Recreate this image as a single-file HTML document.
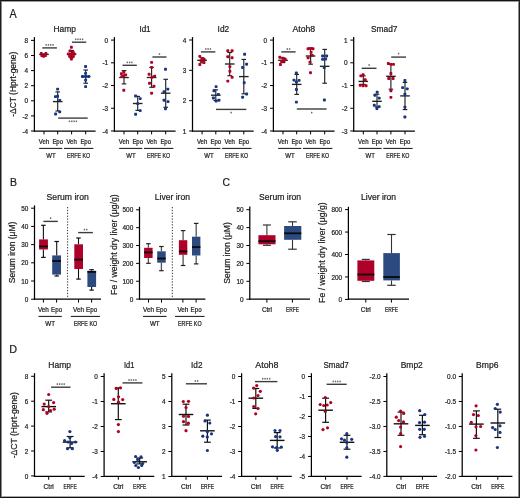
<!DOCTYPE html>
<html><head><meta charset="utf-8"><style>
html,body{margin:0;padding:0;background:#fff;}
body{width:520px;height:498px;overflow:hidden;position:relative;font-family:"Liberation Sans", sans-serif;}
svg{position:absolute;left:0;top:0;will-change:transform;}
svg text{font-family:"Liberation Sans", sans-serif;stroke:#222;stroke-width:0.22px;}
</style></head><body>
<svg width="520" height="498" viewBox="0 0 520 498">
<rect x="0" y="0" width="520" height="498" fill="#fff"/>
<text x="9.6" y="17.6" font-size="12.2" text-anchor="start" fill="#1a1a1a" textLength="7.2" lengthAdjust="spacingAndGlyphs">A</text>
<text x="9.9" y="185.8" font-size="11.4" text-anchor="start" fill="#1a1a1a" textLength="7" lengthAdjust="spacingAndGlyphs">B</text>
<text x="222.6" y="185.9" font-size="11.8" text-anchor="start" fill="#1a1a1a" textLength="7.5" lengthAdjust="spacingAndGlyphs">C</text>
<text x="9.2" y="353.3" font-size="11.4" text-anchor="start" fill="#1a1a1a" textLength="7.8" lengthAdjust="spacingAndGlyphs">D</text>
<text x="64.75" y="31.8" font-size="8.6" text-anchor="middle" fill="#1a1a1a" textLength="22.5" lengthAdjust="spacingAndGlyphs">Hamp</text>
<line x1="34.4" y1="37.1" x2="34.4" y2="131.62" stroke="#000" stroke-width="1.25"/>
<line x1="31" y1="40.4" x2="34.4" y2="40.4" stroke="#000" stroke-width="1"/>
<text x="28.2" y="43.06" font-size="7.4" text-anchor="end" fill="#1a1a1a" textLength="3.58" lengthAdjust="spacingAndGlyphs">8</text>
<line x1="31" y1="55.5" x2="34.4" y2="55.5" stroke="#000" stroke-width="1"/>
<text x="28.2" y="58.16" font-size="7.4" text-anchor="end" fill="#1a1a1a" textLength="3.58" lengthAdjust="spacingAndGlyphs">6</text>
<line x1="31" y1="70.6" x2="34.4" y2="70.6" stroke="#000" stroke-width="1"/>
<text x="28.2" y="73.26" font-size="7.4" text-anchor="end" fill="#1a1a1a" textLength="3.58" lengthAdjust="spacingAndGlyphs">4</text>
<line x1="31" y1="85.7" x2="34.4" y2="85.7" stroke="#000" stroke-width="1"/>
<text x="28.2" y="88.36" font-size="7.4" text-anchor="end" fill="#1a1a1a" textLength="3.58" lengthAdjust="spacingAndGlyphs">2</text>
<line x1="31" y1="100.8" x2="34.4" y2="100.8" stroke="#000" stroke-width="1"/>
<text x="28.2" y="103.46" font-size="7.4" text-anchor="end" fill="#1a1a1a" textLength="3.58" lengthAdjust="spacingAndGlyphs">0</text>
<line x1="31" y1="115.9" x2="34.4" y2="115.9" stroke="#000" stroke-width="1"/>
<text x="28.2" y="118.56" font-size="7.4" text-anchor="end" fill="#1a1a1a" textLength="5.72" lengthAdjust="spacingAndGlyphs">-2</text>
<line x1="31" y1="131" x2="34.4" y2="131" stroke="#000" stroke-width="1"/>
<text x="28.2" y="133.66" font-size="7.4" text-anchor="end" fill="#1a1a1a" textLength="5.72" lengthAdjust="spacingAndGlyphs">-4</text>
<line x1="33.77" y1="131" x2="95.6" y2="131" stroke="#000" stroke-width="1.25"/>
<line x1="44" y1="131" x2="44" y2="134.4" stroke="#000" stroke-width="1"/>
<line x1="57.7" y1="131" x2="57.7" y2="134.4" stroke="#000" stroke-width="1"/>
<line x1="71.6" y1="131" x2="71.6" y2="134.4" stroke="#000" stroke-width="1"/>
<line x1="85.7" y1="131" x2="85.7" y2="134.4" stroke="#000" stroke-width="1"/>
<text x="44" y="143.8" font-size="6.6" text-anchor="middle" fill="#1a1a1a" textLength="10.4" lengthAdjust="spacingAndGlyphs">Veh</text>
<text x="57.7" y="143.8" font-size="6.6" text-anchor="middle" fill="#1a1a1a" textLength="10.6" lengthAdjust="spacingAndGlyphs">Epo</text>
<text x="71.6" y="143.8" font-size="6.6" text-anchor="middle" fill="#1a1a1a" textLength="10.4" lengthAdjust="spacingAndGlyphs">Veh</text>
<text x="85.7" y="143.8" font-size="6.6" text-anchor="middle" fill="#1a1a1a" textLength="10.6" lengthAdjust="spacingAndGlyphs">Epo</text>
<line x1="39.2" y1="148.4" x2="62.3" y2="148.4" stroke="#111" stroke-width="1"/>
<line x1="64" y1="148.4" x2="93.4" y2="148.4" stroke="#111" stroke-width="1"/>
<text x="50.9" y="157.7" font-size="6.7" text-anchor="middle" fill="#1a1a1a" textLength="9.4" lengthAdjust="spacingAndGlyphs">WT</text>
<text x="78.5" y="157.7" font-size="6.7" text-anchor="middle" fill="#1a1a1a" textLength="23.2" lengthAdjust="spacingAndGlyphs">ERFE KO</text>
<line x1="44" y1="54" x2="44" y2="54.8" stroke="#222" stroke-width="1.15"/>
<line x1="41.7" y1="54" x2="46.3" y2="54" stroke="#222" stroke-width="1.15"/>
<line x1="41.7" y1="54.8" x2="46.3" y2="54.8" stroke="#222" stroke-width="1.15"/>
<line x1="39.2" y1="54.4" x2="48.8" y2="54.4" stroke="#222" stroke-width="1.35"/>
<rect x="39.85" y="51.95" width="2.9" height="2.9" rx="0.8" fill="#b2001f"/>
<rect x="44.45" y="51.95" width="2.9" height="2.9" rx="0.8" fill="#b2001f"/>
<rect x="40.35" y="54.05" width="2.9" height="2.9" rx="0.8" fill="#b2001f"/>
<rect x="42.15" y="54.85" width="2.9" height="2.9" rx="0.8" fill="#b2001f"/>
<rect x="43.95" y="54.05" width="2.9" height="2.9" rx="0.8" fill="#b2001f"/>
<line x1="57.7" y1="91.9" x2="57.7" y2="111" stroke="#222" stroke-width="1.15"/>
<line x1="55.4" y1="91.9" x2="60" y2="91.9" stroke="#222" stroke-width="1.15"/>
<line x1="55.4" y1="111" x2="60" y2="111" stroke="#222" stroke-width="1.15"/>
<line x1="52.9" y1="101.6" x2="62.5" y2="101.6" stroke="#222" stroke-width="1.35"/>
<rect x="56.15" y="87.65" width="2.9" height="2.9" rx="0.8" fill="#173580"/>
<rect x="53.95" y="95.15" width="2.9" height="2.9" rx="0.8" fill="#173580"/>
<rect x="56.15" y="94.85" width="2.9" height="2.9" rx="0.8" fill="#173580"/>
<rect x="58.25" y="98.95" width="2.9" height="2.9" rx="0.8" fill="#173580"/>
<rect x="58.25" y="110.45" width="2.9" height="2.9" rx="0.8" fill="#173580"/>
<rect x="54.15" y="112.55" width="2.9" height="2.9" rx="0.8" fill="#173580"/>
<line x1="71.6" y1="50.5" x2="71.6" y2="57.7" stroke="#222" stroke-width="1.15"/>
<line x1="69.3" y1="50.5" x2="73.9" y2="50.5" stroke="#222" stroke-width="1.15"/>
<line x1="69.3" y1="57.7" x2="73.9" y2="57.7" stroke="#222" stroke-width="1.15"/>
<line x1="66.8" y1="54.2" x2="76.4" y2="54.2" stroke="#222" stroke-width="1.35"/>
<rect x="69.95" y="45.85" width="2.9" height="2.9" rx="0.8" fill="#b2001f"/>
<rect x="68.55" y="49.55" width="2.9" height="2.9" rx="0.8" fill="#b2001f"/>
<rect x="71.75" y="50.85" width="2.9" height="2.9" rx="0.8" fill="#b2001f"/>
<rect x="67.05" y="52.55" width="2.9" height="2.9" rx="0.8" fill="#b2001f"/>
<rect x="69.95" y="52.75" width="2.9" height="2.9" rx="0.8" fill="#b2001f"/>
<rect x="72.85" y="52.55" width="2.9" height="2.9" rx="0.8" fill="#b2001f"/>
<rect x="68.15" y="54.95" width="2.9" height="2.9" rx="0.8" fill="#b2001f"/>
<rect x="71.95" y="54.95" width="2.9" height="2.9" rx="0.8" fill="#b2001f"/>
<rect x="69.95" y="57.55" width="2.9" height="2.9" rx="0.8" fill="#b2001f"/>
<line x1="85.7" y1="70" x2="85.7" y2="83.2" stroke="#222" stroke-width="1.15"/>
<line x1="83.4" y1="70" x2="88" y2="70" stroke="#222" stroke-width="1.15"/>
<line x1="83.4" y1="83.2" x2="88" y2="83.2" stroke="#222" stroke-width="1.15"/>
<line x1="80.9" y1="76.5" x2="90.5" y2="76.5" stroke="#222" stroke-width="1.35"/>
<rect x="84.15" y="65.05" width="2.9" height="2.9" rx="0.8" fill="#173580"/>
<rect x="84.15" y="71.95" width="2.9" height="2.9" rx="0.8" fill="#173580"/>
<rect x="81.15" y="75.05" width="2.9" height="2.9" rx="0.8" fill="#173580"/>
<rect x="87.15" y="75.05" width="2.9" height="2.9" rx="0.8" fill="#173580"/>
<rect x="84.15" y="75.05" width="2.9" height="2.9" rx="0.8" fill="#173580"/>
<rect x="84.15" y="78.65" width="2.9" height="2.9" rx="0.8" fill="#173580"/>
<rect x="84.15" y="85.15" width="2.9" height="2.9" rx="0.8" fill="#173580"/>
<line x1="42.3" y1="47.9" x2="56.9" y2="47.9" stroke="#3c3c3c" stroke-width="1.4"/>
<rect x="45.45" y="44.1" width="1.4" height="1.6" fill="#666"/>
<rect x="47.75" y="44.1" width="1.4" height="1.6" fill="#666"/>
<rect x="50.05" y="44.1" width="1.4" height="1.6" fill="#666"/>
<rect x="52.35" y="44.1" width="1.4" height="1.6" fill="#666"/>
<line x1="72" y1="42.2" x2="86.2" y2="42.2" stroke="#3c3c3c" stroke-width="1.4"/>
<rect x="74.95" y="38.5" width="1.4" height="1.6" fill="#666"/>
<rect x="77.25" y="38.5" width="1.4" height="1.6" fill="#666"/>
<rect x="79.55" y="38.5" width="1.4" height="1.6" fill="#666"/>
<rect x="81.85" y="38.5" width="1.4" height="1.6" fill="#666"/>
<line x1="58.2" y1="118.1" x2="87.7" y2="118.1" stroke="#3c3c3c" stroke-width="1.4"/>
<rect x="68.8" y="120.5" width="1.4" height="1.6" fill="#666"/>
<rect x="71.1" y="120.5" width="1.4" height="1.6" fill="#666"/>
<rect x="73.4" y="120.5" width="1.4" height="1.6" fill="#666"/>
<rect x="75.7" y="120.5" width="1.4" height="1.6" fill="#666"/>
<text x="145" y="31.8" font-size="8.6" text-anchor="middle" fill="#1a1a1a" textLength="11.2" lengthAdjust="spacingAndGlyphs">Id1</text>
<line x1="114.4" y1="37.1" x2="114.4" y2="131.62" stroke="#000" stroke-width="1.25"/>
<line x1="111" y1="40.1" x2="114.4" y2="40.1" stroke="#000" stroke-width="1"/>
<text x="108.2" y="42.76" font-size="7.4" text-anchor="end" fill="#1a1a1a" textLength="3.58" lengthAdjust="spacingAndGlyphs">0</text>
<line x1="111" y1="62.82" x2="114.4" y2="62.82" stroke="#000" stroke-width="1"/>
<text x="108.2" y="65.48" font-size="7.4" text-anchor="end" fill="#1a1a1a" textLength="5.72" lengthAdjust="spacingAndGlyphs">-1</text>
<line x1="111" y1="85.54" x2="114.4" y2="85.54" stroke="#000" stroke-width="1"/>
<text x="108.2" y="88.2" font-size="7.4" text-anchor="end" fill="#1a1a1a" textLength="5.72" lengthAdjust="spacingAndGlyphs">-2</text>
<line x1="111" y1="108.26" x2="114.4" y2="108.26" stroke="#000" stroke-width="1"/>
<text x="108.2" y="110.92" font-size="7.4" text-anchor="end" fill="#1a1a1a" textLength="5.72" lengthAdjust="spacingAndGlyphs">-3</text>
<line x1="111" y1="130.98" x2="114.4" y2="130.98" stroke="#000" stroke-width="1"/>
<text x="108.2" y="133.64" font-size="7.4" text-anchor="end" fill="#1a1a1a" textLength="5.72" lengthAdjust="spacingAndGlyphs">-4</text>
<line x1="113.78" y1="131" x2="175.6" y2="131" stroke="#000" stroke-width="1.25"/>
<line x1="124" y1="131" x2="124" y2="134.4" stroke="#000" stroke-width="1"/>
<line x1="137.7" y1="131" x2="137.7" y2="134.4" stroke="#000" stroke-width="1"/>
<line x1="151.6" y1="131" x2="151.6" y2="134.4" stroke="#000" stroke-width="1"/>
<line x1="165.7" y1="131" x2="165.7" y2="134.4" stroke="#000" stroke-width="1"/>
<text x="124" y="143.8" font-size="6.6" text-anchor="middle" fill="#1a1a1a" textLength="10.4" lengthAdjust="spacingAndGlyphs">Veh</text>
<text x="137.7" y="143.8" font-size="6.6" text-anchor="middle" fill="#1a1a1a" textLength="10.6" lengthAdjust="spacingAndGlyphs">Epo</text>
<text x="151.6" y="143.8" font-size="6.6" text-anchor="middle" fill="#1a1a1a" textLength="10.4" lengthAdjust="spacingAndGlyphs">Veh</text>
<text x="165.7" y="143.8" font-size="6.6" text-anchor="middle" fill="#1a1a1a" textLength="10.6" lengthAdjust="spacingAndGlyphs">Epo</text>
<line x1="119.2" y1="148.4" x2="142.3" y2="148.4" stroke="#111" stroke-width="1"/>
<line x1="144" y1="148.4" x2="173.4" y2="148.4" stroke="#111" stroke-width="1"/>
<text x="130.9" y="157.7" font-size="6.7" text-anchor="middle" fill="#1a1a1a" textLength="9.4" lengthAdjust="spacingAndGlyphs">WT</text>
<text x="158.5" y="157.7" font-size="6.7" text-anchor="middle" fill="#1a1a1a" textLength="23.2" lengthAdjust="spacingAndGlyphs">ERFE KO</text>
<line x1="124" y1="70.6" x2="124" y2="83.9" stroke="#222" stroke-width="1.15"/>
<line x1="121.7" y1="70.6" x2="126.3" y2="70.6" stroke="#222" stroke-width="1.15"/>
<line x1="121.7" y1="83.9" x2="126.3" y2="83.9" stroke="#222" stroke-width="1.15"/>
<line x1="119.2" y1="77.5" x2="128.8" y2="77.5" stroke="#222" stroke-width="1.35"/>
<rect x="119.95" y="72.25" width="2.9" height="2.9" rx="0.8" fill="#b2001f"/>
<rect x="122.35" y="70.45" width="2.9" height="2.9" rx="0.8" fill="#b2001f"/>
<rect x="124.15" y="73.45" width="2.9" height="2.9" rx="0.8" fill="#b2001f"/>
<rect x="121.75" y="74.65" width="2.9" height="2.9" rx="0.8" fill="#b2001f"/>
<rect x="120.35" y="75.15" width="2.9" height="2.9" rx="0.8" fill="#b2001f"/>
<rect x="122.35" y="88.85" width="2.9" height="2.9" rx="0.8" fill="#b2001f"/>
<line x1="137.7" y1="96.4" x2="137.7" y2="110.4" stroke="#222" stroke-width="1.15"/>
<line x1="135.4" y1="96.4" x2="140" y2="96.4" stroke="#222" stroke-width="1.15"/>
<line x1="135.4" y1="110.4" x2="140" y2="110.4" stroke="#222" stroke-width="1.15"/>
<line x1="132.9" y1="103.5" x2="142.5" y2="103.5" stroke="#222" stroke-width="1.35"/>
<rect x="134.15" y="94.55" width="2.9" height="2.9" rx="0.8" fill="#173580"/>
<rect x="138.75" y="97.15" width="2.9" height="2.9" rx="0.8" fill="#173580"/>
<rect x="136.25" y="102.15" width="2.9" height="2.9" rx="0.8" fill="#173580"/>
<rect x="138.75" y="109.15" width="2.9" height="2.9" rx="0.8" fill="#173580"/>
<rect x="134.15" y="112.85" width="2.9" height="2.9" rx="0.8" fill="#173580"/>
<line x1="151.6" y1="67.4" x2="151.6" y2="87.3" stroke="#222" stroke-width="1.15"/>
<line x1="149.3" y1="67.4" x2="153.9" y2="67.4" stroke="#222" stroke-width="1.15"/>
<line x1="149.3" y1="87.3" x2="153.9" y2="87.3" stroke="#222" stroke-width="1.15"/>
<line x1="146.8" y1="77.5" x2="156.4" y2="77.5" stroke="#222" stroke-width="1.35"/>
<rect x="150.15" y="60.95" width="2.9" height="2.9" rx="0.8" fill="#b2001f"/>
<rect x="150.15" y="65.95" width="2.9" height="2.9" rx="0.8" fill="#b2001f"/>
<rect x="147.65" y="72.85" width="2.9" height="2.9" rx="0.8" fill="#b2001f"/>
<rect x="150.45" y="75.85" width="2.9" height="2.9" rx="0.8" fill="#b2001f"/>
<rect x="153.15" y="74.65" width="2.9" height="2.9" rx="0.8" fill="#b2001f"/>
<rect x="148.05" y="81.85" width="2.9" height="2.9" rx="0.8" fill="#b2001f"/>
<rect x="152.55" y="84.85" width="2.9" height="2.9" rx="0.8" fill="#b2001f"/>
<rect x="150.15" y="91.75" width="2.9" height="2.9" rx="0.8" fill="#b2001f"/>
<line x1="165.7" y1="79.3" x2="165.7" y2="107.3" stroke="#222" stroke-width="1.15"/>
<line x1="163.4" y1="79.3" x2="168" y2="79.3" stroke="#222" stroke-width="1.15"/>
<line x1="163.4" y1="107.3" x2="168" y2="107.3" stroke="#222" stroke-width="1.15"/>
<line x1="160.9" y1="93.2" x2="170.5" y2="93.2" stroke="#222" stroke-width="1.35"/>
<rect x="164.05" y="67.85" width="2.9" height="2.9" rx="0.8" fill="#173580"/>
<rect x="166.35" y="87.65" width="2.9" height="2.9" rx="0.8" fill="#173580"/>
<rect x="162.55" y="90.25" width="2.9" height="2.9" rx="0.8" fill="#173580"/>
<rect x="162.55" y="98.75" width="2.9" height="2.9" rx="0.8" fill="#173580"/>
<rect x="166.55" y="100.15" width="2.9" height="2.9" rx="0.8" fill="#173580"/>
<rect x="164.05" y="107.35" width="2.9" height="2.9" rx="0.8" fill="#173580"/>
<line x1="122.5" y1="65.3" x2="136.8" y2="65.3" stroke="#3c3c3c" stroke-width="1.4"/>
<rect x="126.65" y="61.6" width="1.4" height="1.6" fill="#666"/>
<rect x="128.95" y="61.6" width="1.4" height="1.6" fill="#666"/>
<rect x="131.25" y="61.6" width="1.4" height="1.6" fill="#666"/>
<line x1="152.4" y1="57" x2="166.5" y2="57" stroke="#3c3c3c" stroke-width="1.4"/>
<rect x="158.75" y="53.2" width="1.4" height="1.6" fill="#666"/>
<text x="223.4" y="31.8" font-size="8.6" text-anchor="middle" fill="#1a1a1a" textLength="11.6" lengthAdjust="spacingAndGlyphs">Id2</text>
<line x1="192.5" y1="37.1" x2="192.5" y2="131.62" stroke="#000" stroke-width="1.25"/>
<line x1="189.1" y1="40" x2="192.5" y2="40" stroke="#000" stroke-width="1"/>
<text x="186.3" y="42.66" font-size="7.4" text-anchor="end" fill="#1a1a1a" textLength="3.58" lengthAdjust="spacingAndGlyphs">4</text>
<line x1="189.1" y1="70.33" x2="192.5" y2="70.33" stroke="#000" stroke-width="1"/>
<text x="186.3" y="72.99" font-size="7.4" text-anchor="end" fill="#1a1a1a" textLength="3.58" lengthAdjust="spacingAndGlyphs">3</text>
<line x1="189.1" y1="100.66" x2="192.5" y2="100.66" stroke="#000" stroke-width="1"/>
<text x="186.3" y="103.32" font-size="7.4" text-anchor="end" fill="#1a1a1a" textLength="3.58" lengthAdjust="spacingAndGlyphs">2</text>
<line x1="189.1" y1="130.99" x2="192.5" y2="130.99" stroke="#000" stroke-width="1"/>
<text x="186.3" y="133.65" font-size="7.4" text-anchor="end" fill="#1a1a1a" textLength="3.58" lengthAdjust="spacingAndGlyphs">1</text>
<line x1="191.88" y1="131" x2="253.7" y2="131" stroke="#000" stroke-width="1.25"/>
<line x1="202.1" y1="131" x2="202.1" y2="134.4" stroke="#000" stroke-width="1"/>
<line x1="215.8" y1="131" x2="215.8" y2="134.4" stroke="#000" stroke-width="1"/>
<line x1="229.7" y1="131" x2="229.7" y2="134.4" stroke="#000" stroke-width="1"/>
<line x1="243.8" y1="131" x2="243.8" y2="134.4" stroke="#000" stroke-width="1"/>
<text x="202.1" y="143.8" font-size="6.6" text-anchor="middle" fill="#1a1a1a" textLength="10.4" lengthAdjust="spacingAndGlyphs">Veh</text>
<text x="215.8" y="143.8" font-size="6.6" text-anchor="middle" fill="#1a1a1a" textLength="10.6" lengthAdjust="spacingAndGlyphs">Epo</text>
<text x="229.7" y="143.8" font-size="6.6" text-anchor="middle" fill="#1a1a1a" textLength="10.4" lengthAdjust="spacingAndGlyphs">Veh</text>
<text x="243.8" y="143.8" font-size="6.6" text-anchor="middle" fill="#1a1a1a" textLength="10.6" lengthAdjust="spacingAndGlyphs">Epo</text>
<line x1="197.3" y1="148.4" x2="220.4" y2="148.4" stroke="#111" stroke-width="1"/>
<line x1="222.1" y1="148.4" x2="251.5" y2="148.4" stroke="#111" stroke-width="1"/>
<text x="209" y="157.7" font-size="6.7" text-anchor="middle" fill="#1a1a1a" textLength="9.4" lengthAdjust="spacingAndGlyphs">WT</text>
<text x="236.6" y="157.7" font-size="6.7" text-anchor="middle" fill="#1a1a1a" textLength="23.2" lengthAdjust="spacingAndGlyphs">ERFE KO</text>
<line x1="202.1" y1="57.8" x2="202.1" y2="62.8" stroke="#222" stroke-width="1.15"/>
<line x1="199.8" y1="57.8" x2="204.4" y2="57.8" stroke="#222" stroke-width="1.15"/>
<line x1="199.8" y1="62.8" x2="204.4" y2="62.8" stroke="#222" stroke-width="1.15"/>
<line x1="197.3" y1="60.3" x2="206.9" y2="60.3" stroke="#222" stroke-width="1.35"/>
<rect x="198.35" y="54.95" width="2.9" height="2.9" rx="0.8" fill="#b2001f"/>
<rect x="200.75" y="57.15" width="2.9" height="2.9" rx="0.8" fill="#b2001f"/>
<rect x="202.75" y="57.95" width="2.9" height="2.9" rx="0.8" fill="#b2001f"/>
<rect x="199.55" y="59.15" width="2.9" height="2.9" rx="0.8" fill="#b2001f"/>
<rect x="202.55" y="61.05" width="2.9" height="2.9" rx="0.8" fill="#b2001f"/>
<rect x="198.35" y="63.05" width="2.9" height="2.9" rx="0.8" fill="#b2001f"/>
<line x1="215.8" y1="89.8" x2="215.8" y2="100.5" stroke="#222" stroke-width="1.15"/>
<line x1="213.5" y1="89.8" x2="218.1" y2="89.8" stroke="#222" stroke-width="1.15"/>
<line x1="213.5" y1="100.5" x2="218.1" y2="100.5" stroke="#222" stroke-width="1.15"/>
<line x1="211" y1="95.2" x2="220.6" y2="95.2" stroke="#222" stroke-width="1.35"/>
<rect x="214.65" y="85.15" width="2.9" height="2.9" rx="0.8" fill="#173580"/>
<rect x="212.55" y="89.35" width="2.9" height="2.9" rx="0.8" fill="#173580"/>
<rect x="216.95" y="92.95" width="2.9" height="2.9" rx="0.8" fill="#173580"/>
<rect x="211.95" y="96.55" width="2.9" height="2.9" rx="0.8" fill="#173580"/>
<rect x="214.65" y="99.55" width="2.9" height="2.9" rx="0.8" fill="#173580"/>
<rect x="217.55" y="98.75" width="2.9" height="2.9" rx="0.8" fill="#173580"/>
<line x1="229.7" y1="52.5" x2="229.7" y2="75.7" stroke="#222" stroke-width="1.15"/>
<line x1="227.4" y1="52.5" x2="232" y2="52.5" stroke="#222" stroke-width="1.15"/>
<line x1="227.4" y1="75.7" x2="232" y2="75.7" stroke="#222" stroke-width="1.15"/>
<line x1="224.9" y1="64" x2="234.5" y2="64" stroke="#222" stroke-width="1.35"/>
<rect x="226.35" y="49.35" width="2.9" height="2.9" rx="0.8" fill="#b2001f"/>
<rect x="230.65" y="49.35" width="2.9" height="2.9" rx="0.8" fill="#b2001f"/>
<rect x="226.35" y="55.35" width="2.9" height="2.9" rx="0.8" fill="#b2001f"/>
<rect x="230.65" y="56.25" width="2.9" height="2.9" rx="0.8" fill="#b2001f"/>
<rect x="228.45" y="65.25" width="2.9" height="2.9" rx="0.8" fill="#b2001f"/>
<rect x="228.45" y="69.85" width="2.9" height="2.9" rx="0.8" fill="#b2001f"/>
<rect x="230.65" y="75.85" width="2.9" height="2.9" rx="0.8" fill="#b2001f"/>
<rect x="226.35" y="79.65" width="2.9" height="2.9" rx="0.8" fill="#b2001f"/>
<line x1="243.8" y1="59.4" x2="243.8" y2="93.8" stroke="#222" stroke-width="1.15"/>
<line x1="241.5" y1="59.4" x2="246.1" y2="59.4" stroke="#222" stroke-width="1.15"/>
<line x1="241.5" y1="93.8" x2="246.1" y2="93.8" stroke="#222" stroke-width="1.15"/>
<line x1="239" y1="76.6" x2="248.6" y2="76.6" stroke="#222" stroke-width="1.35"/>
<rect x="243.15" y="52.85" width="2.9" height="2.9" rx="0.8" fill="#173580"/>
<rect x="245.15" y="62.75" width="2.9" height="2.9" rx="0.8" fill="#173580"/>
<rect x="241.15" y="66.05" width="2.9" height="2.9" rx="0.8" fill="#173580"/>
<rect x="242.75" y="81.25" width="2.9" height="2.9" rx="0.8" fill="#173580"/>
<rect x="245.15" y="92.55" width="2.9" height="2.9" rx="0.8" fill="#173580"/>
<rect x="241.15" y="95.75" width="2.9" height="2.9" rx="0.8" fill="#173580"/>
<line x1="200.9" y1="51.9" x2="215.3" y2="51.9" stroke="#3c3c3c" stroke-width="1.4"/>
<rect x="205.1" y="48.2" width="1.4" height="1.6" fill="#666"/>
<rect x="207.4" y="48.2" width="1.4" height="1.6" fill="#666"/>
<rect x="209.7" y="48.2" width="1.4" height="1.6" fill="#666"/>
<line x1="216" y1="109.4" x2="246.3" y2="109.4" stroke="#3c3c3c" stroke-width="1.4"/>
<rect x="230.45" y="111.8" width="1.4" height="1.6" fill="#666"/>
<text x="303.85" y="31.8" font-size="8.6" text-anchor="middle" fill="#1a1a1a" textLength="22.7" lengthAdjust="spacingAndGlyphs">Atoh8</text>
<line x1="273.4" y1="37.1" x2="273.4" y2="131.62" stroke="#000" stroke-width="1.25"/>
<line x1="270" y1="40.1" x2="273.4" y2="40.1" stroke="#000" stroke-width="1"/>
<text x="267.2" y="42.76" font-size="7.4" text-anchor="end" fill="#1a1a1a" textLength="3.58" lengthAdjust="spacingAndGlyphs">0</text>
<line x1="270" y1="62.82" x2="273.4" y2="62.82" stroke="#000" stroke-width="1"/>
<text x="267.2" y="65.48" font-size="7.4" text-anchor="end" fill="#1a1a1a" textLength="5.72" lengthAdjust="spacingAndGlyphs">-1</text>
<line x1="270" y1="85.54" x2="273.4" y2="85.54" stroke="#000" stroke-width="1"/>
<text x="267.2" y="88.2" font-size="7.4" text-anchor="end" fill="#1a1a1a" textLength="5.72" lengthAdjust="spacingAndGlyphs">-2</text>
<line x1="270" y1="108.26" x2="273.4" y2="108.26" stroke="#000" stroke-width="1"/>
<text x="267.2" y="110.92" font-size="7.4" text-anchor="end" fill="#1a1a1a" textLength="5.72" lengthAdjust="spacingAndGlyphs">-3</text>
<line x1="270" y1="130.98" x2="273.4" y2="130.98" stroke="#000" stroke-width="1"/>
<text x="267.2" y="133.64" font-size="7.4" text-anchor="end" fill="#1a1a1a" textLength="5.72" lengthAdjust="spacingAndGlyphs">-4</text>
<line x1="272.77" y1="131" x2="334.6" y2="131" stroke="#000" stroke-width="1.25"/>
<line x1="283" y1="131" x2="283" y2="134.4" stroke="#000" stroke-width="1"/>
<line x1="296.7" y1="131" x2="296.7" y2="134.4" stroke="#000" stroke-width="1"/>
<line x1="310.6" y1="131" x2="310.6" y2="134.4" stroke="#000" stroke-width="1"/>
<line x1="324.7" y1="131" x2="324.7" y2="134.4" stroke="#000" stroke-width="1"/>
<text x="283" y="143.8" font-size="6.6" text-anchor="middle" fill="#1a1a1a" textLength="10.4" lengthAdjust="spacingAndGlyphs">Veh</text>
<text x="296.7" y="143.8" font-size="6.6" text-anchor="middle" fill="#1a1a1a" textLength="10.6" lengthAdjust="spacingAndGlyphs">Epo</text>
<text x="310.6" y="143.8" font-size="6.6" text-anchor="middle" fill="#1a1a1a" textLength="10.4" lengthAdjust="spacingAndGlyphs">Veh</text>
<text x="324.7" y="143.8" font-size="6.6" text-anchor="middle" fill="#1a1a1a" textLength="10.6" lengthAdjust="spacingAndGlyphs">Epo</text>
<line x1="278.2" y1="148.4" x2="301.3" y2="148.4" stroke="#111" stroke-width="1"/>
<line x1="303" y1="148.4" x2="332.4" y2="148.4" stroke="#111" stroke-width="1"/>
<text x="289.9" y="157.7" font-size="6.7" text-anchor="middle" fill="#1a1a1a" textLength="9.4" lengthAdjust="spacingAndGlyphs">WT</text>
<text x="317.5" y="157.7" font-size="6.7" text-anchor="middle" fill="#1a1a1a" textLength="23.2" lengthAdjust="spacingAndGlyphs">ERFE KO</text>
<line x1="283" y1="58" x2="283" y2="62.6" stroke="#222" stroke-width="1.15"/>
<line x1="280.7" y1="58" x2="285.3" y2="58" stroke="#222" stroke-width="1.15"/>
<line x1="280.7" y1="62.6" x2="285.3" y2="62.6" stroke="#222" stroke-width="1.15"/>
<line x1="278.2" y1="60.3" x2="287.8" y2="60.3" stroke="#222" stroke-width="1.35"/>
<rect x="278.35" y="55.85" width="2.9" height="2.9" rx="0.8" fill="#b2001f"/>
<rect x="281.35" y="56.75" width="2.9" height="2.9" rx="0.8" fill="#b2001f"/>
<rect x="283.75" y="57.65" width="2.9" height="2.9" rx="0.8" fill="#b2001f"/>
<rect x="282.55" y="59.45" width="2.9" height="2.9" rx="0.8" fill="#b2001f"/>
<rect x="280.15" y="60.05" width="2.9" height="2.9" rx="0.8" fill="#b2001f"/>
<rect x="278.95" y="63.05" width="2.9" height="2.9" rx="0.8" fill="#b2001f"/>
<line x1="296.7" y1="74.4" x2="296.7" y2="94.4" stroke="#222" stroke-width="1.15"/>
<line x1="294.4" y1="74.4" x2="299" y2="74.4" stroke="#222" stroke-width="1.15"/>
<line x1="294.4" y1="94.4" x2="299" y2="94.4" stroke="#222" stroke-width="1.15"/>
<line x1="291.9" y1="84.4" x2="301.5" y2="84.4" stroke="#222" stroke-width="1.35"/>
<rect x="294.95" y="71.45" width="2.9" height="2.9" rx="0.8" fill="#173580"/>
<rect x="292.55" y="78.65" width="2.9" height="2.9" rx="0.8" fill="#173580"/>
<rect x="297.65" y="78.95" width="2.9" height="2.9" rx="0.8" fill="#173580"/>
<rect x="294.95" y="80.55" width="2.9" height="2.9" rx="0.8" fill="#173580"/>
<rect x="294.95" y="88.05" width="2.9" height="2.9" rx="0.8" fill="#173580"/>
<rect x="294.95" y="100.65" width="2.9" height="2.9" rx="0.8" fill="#173580"/>
<line x1="310.6" y1="48.2" x2="310.6" y2="64.2" stroke="#222" stroke-width="1.15"/>
<line x1="308.3" y1="48.2" x2="312.9" y2="48.2" stroke="#222" stroke-width="1.15"/>
<line x1="308.3" y1="64.2" x2="312.9" y2="64.2" stroke="#222" stroke-width="1.15"/>
<line x1="305.8" y1="56" x2="315.4" y2="56" stroke="#222" stroke-width="1.35"/>
<rect x="306.65" y="47.35" width="2.9" height="2.9" rx="0.8" fill="#b2001f"/>
<rect x="309.05" y="47.05" width="2.9" height="2.9" rx="0.8" fill="#b2001f"/>
<rect x="311.55" y="47.35" width="2.9" height="2.9" rx="0.8" fill="#b2001f"/>
<rect x="309.65" y="50.95" width="2.9" height="2.9" rx="0.8" fill="#b2001f"/>
<rect x="310.85" y="53.95" width="2.9" height="2.9" rx="0.8" fill="#b2001f"/>
<rect x="306.65" y="56.45" width="2.9" height="2.9" rx="0.8" fill="#b2001f"/>
<rect x="308.55" y="60.65" width="2.9" height="2.9" rx="0.8" fill="#b2001f"/>
<rect x="309.05" y="71.25" width="2.9" height="2.9" rx="0.8" fill="#b2001f"/>
<line x1="324.7" y1="49.4" x2="324.7" y2="83.2" stroke="#222" stroke-width="1.15"/>
<line x1="322.4" y1="49.4" x2="327" y2="49.4" stroke="#222" stroke-width="1.15"/>
<line x1="322.4" y1="83.2" x2="327" y2="83.2" stroke="#222" stroke-width="1.15"/>
<line x1="319.9" y1="66.3" x2="329.5" y2="66.3" stroke="#222" stroke-width="1.35"/>
<rect x="321.15" y="54.55" width="2.9" height="2.9" rx="0.8" fill="#173580"/>
<rect x="325.15" y="54.55" width="2.9" height="2.9" rx="0.8" fill="#173580"/>
<rect x="321.15" y="57.95" width="2.9" height="2.9" rx="0.8" fill="#173580"/>
<rect x="324.15" y="57.65" width="2.9" height="2.9" rx="0.8" fill="#173580"/>
<rect x="322.75" y="66.05" width="2.9" height="2.9" rx="0.8" fill="#173580"/>
<rect x="322.95" y="98.55" width="2.9" height="2.9" rx="0.8" fill="#173580"/>
<line x1="281.3" y1="51.9" x2="295.6" y2="51.9" stroke="#3c3c3c" stroke-width="1.4"/>
<rect x="286.6" y="48.2" width="1.4" height="1.6" fill="#666"/>
<rect x="288.9" y="48.2" width="1.4" height="1.6" fill="#666"/>
<line x1="296.8" y1="109" x2="326.6" y2="109" stroke="#3c3c3c" stroke-width="1.4"/>
<rect x="311" y="111.8" width="1.4" height="1.6" fill="#666"/>
<text x="384.25" y="31.8" font-size="8.6" text-anchor="middle" fill="#1a1a1a" textLength="26.5" lengthAdjust="spacingAndGlyphs">Smad7</text>
<line x1="353.7" y1="37.1" x2="353.7" y2="131.62" stroke="#000" stroke-width="1.25"/>
<line x1="350.3" y1="40.1" x2="353.7" y2="40.1" stroke="#000" stroke-width="1"/>
<text x="347.5" y="42.76" font-size="7.4" text-anchor="end" fill="#1a1a1a" textLength="3.58" lengthAdjust="spacingAndGlyphs">1</text>
<line x1="350.3" y1="62.82" x2="353.7" y2="62.82" stroke="#000" stroke-width="1"/>
<text x="347.5" y="65.48" font-size="7.4" text-anchor="end" fill="#1a1a1a" textLength="3.58" lengthAdjust="spacingAndGlyphs">0</text>
<line x1="350.3" y1="85.54" x2="353.7" y2="85.54" stroke="#000" stroke-width="1"/>
<text x="347.5" y="88.2" font-size="7.4" text-anchor="end" fill="#1a1a1a" textLength="5.72" lengthAdjust="spacingAndGlyphs">-1</text>
<line x1="350.3" y1="108.26" x2="353.7" y2="108.26" stroke="#000" stroke-width="1"/>
<text x="347.5" y="110.92" font-size="7.4" text-anchor="end" fill="#1a1a1a" textLength="5.72" lengthAdjust="spacingAndGlyphs">-2</text>
<line x1="350.3" y1="130.98" x2="353.7" y2="130.98" stroke="#000" stroke-width="1"/>
<text x="347.5" y="133.64" font-size="7.4" text-anchor="end" fill="#1a1a1a" textLength="5.72" lengthAdjust="spacingAndGlyphs">-3</text>
<line x1="353.07" y1="131" x2="414.9" y2="131" stroke="#000" stroke-width="1.25"/>
<line x1="363.3" y1="131" x2="363.3" y2="134.4" stroke="#000" stroke-width="1"/>
<line x1="377" y1="131" x2="377" y2="134.4" stroke="#000" stroke-width="1"/>
<line x1="390.9" y1="131" x2="390.9" y2="134.4" stroke="#000" stroke-width="1"/>
<line x1="405" y1="131" x2="405" y2="134.4" stroke="#000" stroke-width="1"/>
<text x="363.3" y="143.8" font-size="6.6" text-anchor="middle" fill="#1a1a1a" textLength="10.4" lengthAdjust="spacingAndGlyphs">Veh</text>
<text x="377" y="143.8" font-size="6.6" text-anchor="middle" fill="#1a1a1a" textLength="10.6" lengthAdjust="spacingAndGlyphs">Epo</text>
<text x="390.9" y="143.8" font-size="6.6" text-anchor="middle" fill="#1a1a1a" textLength="10.4" lengthAdjust="spacingAndGlyphs">Veh</text>
<text x="405" y="143.8" font-size="6.6" text-anchor="middle" fill="#1a1a1a" textLength="10.6" lengthAdjust="spacingAndGlyphs">Epo</text>
<line x1="358.5" y1="148.4" x2="381.6" y2="148.4" stroke="#111" stroke-width="1"/>
<line x1="383.3" y1="148.4" x2="412.7" y2="148.4" stroke="#111" stroke-width="1"/>
<text x="370.2" y="157.7" font-size="6.7" text-anchor="middle" fill="#1a1a1a" textLength="9.4" lengthAdjust="spacingAndGlyphs">WT</text>
<text x="397.8" y="157.7" font-size="6.7" text-anchor="middle" fill="#1a1a1a" textLength="23.2" lengthAdjust="spacingAndGlyphs">ERFE KO</text>
<line x1="363.3" y1="75.9" x2="363.3" y2="84.4" stroke="#222" stroke-width="1.15"/>
<line x1="361" y1="75.9" x2="365.6" y2="75.9" stroke="#222" stroke-width="1.15"/>
<line x1="361" y1="84.4" x2="365.6" y2="84.4" stroke="#222" stroke-width="1.15"/>
<line x1="358.5" y1="81.4" x2="368.1" y2="81.4" stroke="#222" stroke-width="1.35"/>
<rect x="359.45" y="74.45" width="2.9" height="2.9" rx="0.8" fill="#b2001f"/>
<rect x="361.65" y="73.35" width="2.9" height="2.9" rx="0.8" fill="#b2001f"/>
<rect x="363.75" y="78.35" width="2.9" height="2.9" rx="0.8" fill="#b2001f"/>
<rect x="358.75" y="83.85" width="2.9" height="2.9" rx="0.8" fill="#b2001f"/>
<rect x="361.65" y="84.25" width="2.9" height="2.9" rx="0.8" fill="#b2001f"/>
<rect x="364.65" y="84.25" width="2.9" height="2.9" rx="0.8" fill="#b2001f"/>
<line x1="377" y1="94.2" x2="377" y2="107" stroke="#222" stroke-width="1.15"/>
<line x1="374.7" y1="94.2" x2="379.3" y2="94.2" stroke="#222" stroke-width="1.15"/>
<line x1="374.7" y1="107" x2="379.3" y2="107" stroke="#222" stroke-width="1.15"/>
<line x1="372.2" y1="101.3" x2="381.8" y2="101.3" stroke="#222" stroke-width="1.35"/>
<rect x="375.75" y="90.75" width="2.9" height="2.9" rx="0.8" fill="#173580"/>
<rect x="373.35" y="93.75" width="2.9" height="2.9" rx="0.8" fill="#173580"/>
<rect x="377.75" y="96.65" width="2.9" height="2.9" rx="0.8" fill="#173580"/>
<rect x="372.85" y="103.85" width="2.9" height="2.9" rx="0.8" fill="#173580"/>
<rect x="377.75" y="105.15" width="2.9" height="2.9" rx="0.8" fill="#173580"/>
<rect x="375.45" y="107.05" width="2.9" height="2.9" rx="0.8" fill="#173580"/>
<line x1="390.9" y1="64.3" x2="390.9" y2="89.2" stroke="#222" stroke-width="1.15"/>
<line x1="388.6" y1="64.3" x2="393.2" y2="64.3" stroke="#222" stroke-width="1.15"/>
<line x1="388.6" y1="89.2" x2="393.2" y2="89.2" stroke="#222" stroke-width="1.15"/>
<line x1="386.1" y1="76.3" x2="395.7" y2="76.3" stroke="#222" stroke-width="1.35"/>
<rect x="386.85" y="62.05" width="2.9" height="2.9" rx="0.8" fill="#b2001f"/>
<rect x="389.45" y="62.95" width="2.9" height="2.9" rx="0.8" fill="#b2001f"/>
<rect x="392.05" y="62.95" width="2.9" height="2.9" rx="0.8" fill="#b2001f"/>
<rect x="389.45" y="72.05" width="2.9" height="2.9" rx="0.8" fill="#b2001f"/>
<rect x="387.25" y="77.05" width="2.9" height="2.9" rx="0.8" fill="#b2001f"/>
<rect x="391.65" y="77.05" width="2.9" height="2.9" rx="0.8" fill="#b2001f"/>
<rect x="389.45" y="89.45" width="2.9" height="2.9" rx="0.8" fill="#b2001f"/>
<rect x="389.45" y="95.95" width="2.9" height="2.9" rx="0.8" fill="#b2001f"/>
<line x1="405" y1="82.4" x2="405" y2="109.6" stroke="#222" stroke-width="1.15"/>
<line x1="402.7" y1="82.4" x2="407.3" y2="82.4" stroke="#222" stroke-width="1.15"/>
<line x1="402.7" y1="109.6" x2="407.3" y2="109.6" stroke="#222" stroke-width="1.15"/>
<line x1="400.2" y1="95.9" x2="409.8" y2="95.9" stroke="#222" stroke-width="1.35"/>
<rect x="403.45" y="79.05" width="2.9" height="2.9" rx="0.8" fill="#173580"/>
<rect x="401.15" y="86.15" width="2.9" height="2.9" rx="0.8" fill="#173580"/>
<rect x="405.75" y="87.45" width="2.9" height="2.9" rx="0.8" fill="#173580"/>
<rect x="403.45" y="92.75" width="2.9" height="2.9" rx="0.8" fill="#173580"/>
<rect x="403.45" y="105.75" width="2.9" height="2.9" rx="0.8" fill="#173580"/>
<rect x="403.45" y="115.55" width="2.9" height="2.9" rx="0.8" fill="#173580"/>
<line x1="361.7" y1="68.3" x2="376.5" y2="68.3" stroke="#3c3c3c" stroke-width="1.4"/>
<rect x="368.4" y="64.2" width="1.4" height="1.6" fill="#666"/>
<line x1="391.2" y1="57.1" x2="406" y2="57.1" stroke="#3c3c3c" stroke-width="1.4"/>
<rect x="397.9" y="52.8" width="1.4" height="1.6" fill="#666"/>
<text transform="translate(15.6,84.3) rotate(-90)" x="0" y="0" font-size="9" text-anchor="middle" fill="#1a1a1a" textLength="65" lengthAdjust="spacingAndGlyphs">-ΔCT (Hprt-gene)</text>
<text x="67.7" y="199.7" font-size="8.6" text-anchor="middle" fill="#1a1a1a" textLength="42.2" lengthAdjust="spacingAndGlyphs">Serum iron</text>
<line x1="34.5" y1="205.4" x2="34.5" y2="299.82" stroke="#000" stroke-width="1.25"/>
<line x1="31.1" y1="208.2" x2="34.5" y2="208.2" stroke="#000" stroke-width="1"/>
<text x="28.3" y="210.86" font-size="7.4" text-anchor="end" fill="#1a1a1a" textLength="7.16" lengthAdjust="spacingAndGlyphs">50</text>
<line x1="31.1" y1="226.4" x2="34.5" y2="226.4" stroke="#000" stroke-width="1"/>
<text x="28.3" y="229.06" font-size="7.4" text-anchor="end" fill="#1a1a1a" textLength="7.16" lengthAdjust="spacingAndGlyphs">40</text>
<line x1="31.1" y1="244.6" x2="34.5" y2="244.6" stroke="#000" stroke-width="1"/>
<text x="28.3" y="247.26" font-size="7.4" text-anchor="end" fill="#1a1a1a" textLength="7.16" lengthAdjust="spacingAndGlyphs">30</text>
<line x1="31.1" y1="262.8" x2="34.5" y2="262.8" stroke="#000" stroke-width="1"/>
<text x="28.3" y="265.46" font-size="7.4" text-anchor="end" fill="#1a1a1a" textLength="7.16" lengthAdjust="spacingAndGlyphs">20</text>
<line x1="31.1" y1="281" x2="34.5" y2="281" stroke="#000" stroke-width="1"/>
<text x="28.3" y="283.66" font-size="7.4" text-anchor="end" fill="#1a1a1a" textLength="7.16" lengthAdjust="spacingAndGlyphs">10</text>
<line x1="31.1" y1="299.2" x2="34.5" y2="299.2" stroke="#000" stroke-width="1"/>
<text x="28.3" y="301.86" font-size="7.4" text-anchor="end" fill="#1a1a1a" textLength="3.58" lengthAdjust="spacingAndGlyphs">0</text>
<line x1="33.88" y1="299.2" x2="101" y2="299.2" stroke="#000" stroke-width="1.25"/>
<line x1="43.4" y1="299.2" x2="43.4" y2="302.6" stroke="#000" stroke-width="1"/>
<line x1="56.6" y1="299.2" x2="56.6" y2="302.6" stroke="#000" stroke-width="1"/>
<line x1="78.5" y1="299.2" x2="78.5" y2="302.6" stroke="#000" stroke-width="1"/>
<line x1="91.6" y1="299.2" x2="91.6" y2="302.6" stroke="#000" stroke-width="1"/>
<rect x="67.1" y="207" width="1" height="1.3" fill="#333"/>
<rect x="67.1" y="209.86" width="1" height="1.3" fill="#333"/>
<rect x="67.1" y="212.72" width="1" height="1.3" fill="#333"/>
<rect x="67.1" y="215.58" width="1" height="1.3" fill="#333"/>
<rect x="67.1" y="218.44" width="1" height="1.3" fill="#333"/>
<rect x="67.1" y="221.3" width="1" height="1.3" fill="#333"/>
<rect x="67.1" y="224.16" width="1" height="1.3" fill="#333"/>
<rect x="67.1" y="227.02" width="1" height="1.3" fill="#333"/>
<rect x="67.1" y="229.88" width="1" height="1.3" fill="#333"/>
<rect x="67.1" y="232.74" width="1" height="1.3" fill="#333"/>
<rect x="67.1" y="235.6" width="1" height="1.3" fill="#333"/>
<rect x="67.1" y="238.46" width="1" height="1.3" fill="#333"/>
<rect x="67.1" y="241.32" width="1" height="1.3" fill="#333"/>
<rect x="67.1" y="244.18" width="1" height="1.3" fill="#333"/>
<rect x="67.1" y="247.04" width="1" height="1.3" fill="#333"/>
<rect x="67.1" y="249.9" width="1" height="1.3" fill="#333"/>
<rect x="67.1" y="252.76" width="1" height="1.3" fill="#333"/>
<rect x="67.1" y="255.62" width="1" height="1.3" fill="#333"/>
<rect x="67.1" y="258.48" width="1" height="1.3" fill="#333"/>
<rect x="67.1" y="261.34" width="1" height="1.3" fill="#333"/>
<rect x="67.1" y="264.2" width="1" height="1.3" fill="#333"/>
<rect x="67.1" y="267.06" width="1" height="1.3" fill="#333"/>
<rect x="67.1" y="269.92" width="1" height="1.3" fill="#333"/>
<rect x="67.1" y="272.78" width="1" height="1.3" fill="#333"/>
<rect x="67.1" y="275.64" width="1" height="1.3" fill="#333"/>
<rect x="67.1" y="278.5" width="1" height="1.3" fill="#333"/>
<rect x="67.1" y="281.36" width="1" height="1.3" fill="#333"/>
<rect x="67.1" y="284.22" width="1" height="1.3" fill="#333"/>
<rect x="67.1" y="287.08" width="1" height="1.3" fill="#333"/>
<rect x="67.1" y="289.94" width="1" height="1.3" fill="#333"/>
<rect x="67.1" y="292.8" width="1" height="1.3" fill="#333"/>
<rect x="67.1" y="295.66" width="1" height="1.3" fill="#333"/>
<line x1="43.4" y1="225.3" x2="43.4" y2="239.4" stroke="#111" stroke-width="1.1"/>
<line x1="43.4" y1="249.5" x2="43.4" y2="257.4" stroke="#111" stroke-width="1.1"/>
<line x1="41.15" y1="225.3" x2="45.65" y2="225.3" stroke="#111" stroke-width="1.2"/>
<line x1="41.15" y1="257.4" x2="45.65" y2="257.4" stroke="#111" stroke-width="1.2"/>
<rect x="39.1" y="239.4" width="8.8" height="10.1" fill="#ae0029"/>
<line x1="39.1" y1="246.4" x2="47.9" y2="246.4" stroke="#0a0a0a" stroke-width="1.8"/>
<line x1="56.7" y1="241.5" x2="56.7" y2="255.4" stroke="#111" stroke-width="1.1"/>
<line x1="56.7" y1="274.6" x2="56.7" y2="276" stroke="#111" stroke-width="1.1"/>
<line x1="54.45" y1="241.5" x2="58.95" y2="241.5" stroke="#111" stroke-width="1.2"/>
<line x1="54.45" y1="276" x2="58.95" y2="276" stroke="#111" stroke-width="1.2"/>
<rect x="52.2" y="255.4" width="8.8" height="19.2" fill="#2d4a80"/>
<line x1="52.2" y1="261" x2="61" y2="261" stroke="#0a0a0a" stroke-width="1.8"/>
<line x1="78.5" y1="238" x2="78.5" y2="244.3" stroke="#111" stroke-width="1.1"/>
<line x1="78.5" y1="269" x2="78.5" y2="279.1" stroke="#111" stroke-width="1.1"/>
<line x1="76.25" y1="238" x2="80.75" y2="238" stroke="#111" stroke-width="1.2"/>
<line x1="76.25" y1="279.1" x2="80.75" y2="279.1" stroke="#111" stroke-width="1.2"/>
<rect x="74.3" y="244.3" width="8.7" height="24.7" fill="#ae0029"/>
<line x1="74.3" y1="259.6" x2="83" y2="259.6" stroke="#0a0a0a" stroke-width="1.8"/>
<line x1="91.6" y1="269.7" x2="91.6" y2="270.8" stroke="#111" stroke-width="1.1"/>
<line x1="91.6" y1="287" x2="91.6" y2="290.1" stroke="#111" stroke-width="1.1"/>
<line x1="89.35" y1="269.7" x2="93.85" y2="269.7" stroke="#111" stroke-width="1.2"/>
<line x1="89.35" y1="290.1" x2="93.85" y2="290.1" stroke="#111" stroke-width="1.2"/>
<rect x="87.4" y="270.8" width="8.7" height="16.2" fill="#2d4a80"/>
<line x1="87.4" y1="271.9" x2="96.1" y2="271.9" stroke="#0a0a0a" stroke-width="1.8"/>
<line x1="43.4" y1="221.4" x2="57.8" y2="221.4" stroke="#3c3c3c" stroke-width="1.4"/>
<rect x="49.9" y="217.4" width="1.4" height="1.6" fill="#666"/>
<line x1="78.2" y1="232.6" x2="92.9" y2="232.6" stroke="#3c3c3c" stroke-width="1.4"/>
<rect x="83.7" y="228.8" width="1.4" height="1.6" fill="#666"/>
<rect x="86" y="228.8" width="1.4" height="1.6" fill="#666"/>
<text x="43.4" y="311.7" font-size="6.6" text-anchor="middle" fill="#1a1a1a" textLength="11" lengthAdjust="spacingAndGlyphs">Veh</text>
<text x="56.6" y="311.7" font-size="6.6" text-anchor="middle" fill="#1a1a1a" textLength="11" lengthAdjust="spacingAndGlyphs">Epo</text>
<text x="78.5" y="311.7" font-size="6.6" text-anchor="middle" fill="#1a1a1a" textLength="11" lengthAdjust="spacingAndGlyphs">Veh</text>
<text x="91.6" y="311.7" font-size="6.6" text-anchor="middle" fill="#1a1a1a" textLength="11" lengthAdjust="spacingAndGlyphs">Epo</text>
<line x1="38.5" y1="316.4" x2="61.8" y2="316.4" stroke="#111" stroke-width="1"/>
<line x1="70.8" y1="316.4" x2="100" y2="316.4" stroke="#111" stroke-width="1"/>
<text x="50.15" y="325.5" font-size="6.6" text-anchor="middle" fill="#1a1a1a" textLength="9.8" lengthAdjust="spacingAndGlyphs">WT</text>
<text x="85.4" y="325.5" font-size="6.6" text-anchor="middle" fill="#1a1a1a" textLength="23.5" lengthAdjust="spacingAndGlyphs">ERFE KO</text>
<text transform="translate(15,252.4) rotate(-90)" x="0" y="0" font-size="9" text-anchor="middle" fill="#1a1a1a" textLength="61.5" lengthAdjust="spacingAndGlyphs">Serum iron (μM)</text>
<text x="172.4" y="199.7" font-size="8.6" text-anchor="middle" fill="#1a1a1a" textLength="35.2" lengthAdjust="spacingAndGlyphs">Liver iron</text>
<line x1="139.5" y1="206.8" x2="139.5" y2="299.82" stroke="#000" stroke-width="1.25"/>
<line x1="136.1" y1="209.8" x2="139.5" y2="209.8" stroke="#000" stroke-width="1"/>
<text x="133.3" y="212.46" font-size="7.4" text-anchor="end" fill="#1a1a1a" textLength="10.74" lengthAdjust="spacingAndGlyphs">500</text>
<line x1="136.1" y1="227.66" x2="139.5" y2="227.66" stroke="#000" stroke-width="1"/>
<text x="133.3" y="230.32" font-size="7.4" text-anchor="end" fill="#1a1a1a" textLength="10.74" lengthAdjust="spacingAndGlyphs">400</text>
<line x1="136.1" y1="245.52" x2="139.5" y2="245.52" stroke="#000" stroke-width="1"/>
<text x="133.3" y="248.18" font-size="7.4" text-anchor="end" fill="#1a1a1a" textLength="10.74" lengthAdjust="spacingAndGlyphs">300</text>
<line x1="136.1" y1="263.38" x2="139.5" y2="263.38" stroke="#000" stroke-width="1"/>
<text x="133.3" y="266.04" font-size="7.4" text-anchor="end" fill="#1a1a1a" textLength="10.74" lengthAdjust="spacingAndGlyphs">200</text>
<line x1="136.1" y1="281.24" x2="139.5" y2="281.24" stroke="#000" stroke-width="1"/>
<text x="133.3" y="283.9" font-size="7.4" text-anchor="end" fill="#1a1a1a" textLength="10.74" lengthAdjust="spacingAndGlyphs">100</text>
<line x1="136.1" y1="299.1" x2="139.5" y2="299.1" stroke="#000" stroke-width="1"/>
<text x="133.3" y="301.76" font-size="7.4" text-anchor="end" fill="#1a1a1a" textLength="3.58" lengthAdjust="spacingAndGlyphs">0</text>
<line x1="138.88" y1="299.2" x2="205.4" y2="299.2" stroke="#000" stroke-width="1.25"/>
<line x1="148.5" y1="299.2" x2="148.5" y2="302.6" stroke="#000" stroke-width="1"/>
<line x1="161.5" y1="299.2" x2="161.5" y2="302.6" stroke="#000" stroke-width="1"/>
<line x1="182.9" y1="299.2" x2="182.9" y2="302.6" stroke="#000" stroke-width="1"/>
<line x1="196.1" y1="299.2" x2="196.1" y2="302.6" stroke="#000" stroke-width="1"/>
<rect x="171.8" y="207" width="1" height="1.3" fill="#333"/>
<rect x="171.8" y="209.86" width="1" height="1.3" fill="#333"/>
<rect x="171.8" y="212.72" width="1" height="1.3" fill="#333"/>
<rect x="171.8" y="215.58" width="1" height="1.3" fill="#333"/>
<rect x="171.8" y="218.44" width="1" height="1.3" fill="#333"/>
<rect x="171.8" y="221.3" width="1" height="1.3" fill="#333"/>
<rect x="171.8" y="224.16" width="1" height="1.3" fill="#333"/>
<rect x="171.8" y="227.02" width="1" height="1.3" fill="#333"/>
<rect x="171.8" y="229.88" width="1" height="1.3" fill="#333"/>
<rect x="171.8" y="232.74" width="1" height="1.3" fill="#333"/>
<rect x="171.8" y="235.6" width="1" height="1.3" fill="#333"/>
<rect x="171.8" y="238.46" width="1" height="1.3" fill="#333"/>
<rect x="171.8" y="241.32" width="1" height="1.3" fill="#333"/>
<rect x="171.8" y="244.18" width="1" height="1.3" fill="#333"/>
<rect x="171.8" y="247.04" width="1" height="1.3" fill="#333"/>
<rect x="171.8" y="249.9" width="1" height="1.3" fill="#333"/>
<rect x="171.8" y="252.76" width="1" height="1.3" fill="#333"/>
<rect x="171.8" y="255.62" width="1" height="1.3" fill="#333"/>
<rect x="171.8" y="258.48" width="1" height="1.3" fill="#333"/>
<rect x="171.8" y="261.34" width="1" height="1.3" fill="#333"/>
<rect x="171.8" y="264.2" width="1" height="1.3" fill="#333"/>
<rect x="171.8" y="267.06" width="1" height="1.3" fill="#333"/>
<rect x="171.8" y="269.92" width="1" height="1.3" fill="#333"/>
<rect x="171.8" y="272.78" width="1" height="1.3" fill="#333"/>
<rect x="171.8" y="275.64" width="1" height="1.3" fill="#333"/>
<rect x="171.8" y="278.5" width="1" height="1.3" fill="#333"/>
<rect x="171.8" y="281.36" width="1" height="1.3" fill="#333"/>
<rect x="171.8" y="284.22" width="1" height="1.3" fill="#333"/>
<rect x="171.8" y="287.08" width="1" height="1.3" fill="#333"/>
<rect x="171.8" y="289.94" width="1" height="1.3" fill="#333"/>
<rect x="171.8" y="292.8" width="1" height="1.3" fill="#333"/>
<rect x="171.8" y="295.66" width="1" height="1.3" fill="#333"/>
<line x1="148.4" y1="243.7" x2="148.4" y2="247.8" stroke="#555" stroke-width="1.3"/>
<line x1="148.4" y1="258" x2="148.4" y2="263.3" stroke="#555" stroke-width="1.3"/>
<line x1="146.15" y1="243.7" x2="150.65" y2="243.7" stroke="#222" stroke-width="1.2"/>
<line x1="146.15" y1="263.3" x2="150.65" y2="263.3" stroke="#222" stroke-width="1.2"/>
<rect x="144.1" y="247.8" width="8.5" height="10.2" fill="#ae0029"/>
<line x1="144.1" y1="252.4" x2="152.6" y2="252.4" stroke="#0a0a0a" stroke-width="1.8"/>
<line x1="161.4" y1="246.5" x2="161.4" y2="251.3" stroke="#555" stroke-width="1.3"/>
<line x1="161.4" y1="262.7" x2="161.4" y2="270.7" stroke="#555" stroke-width="1.3"/>
<line x1="159.15" y1="246.5" x2="163.65" y2="246.5" stroke="#222" stroke-width="1.2"/>
<line x1="159.15" y1="270.7" x2="163.65" y2="270.7" stroke="#222" stroke-width="1.2"/>
<rect x="157.2" y="251.3" width="8.5" height="11.4" fill="#2d4a80"/>
<line x1="157.2" y1="258.5" x2="165.7" y2="258.5" stroke="#0a0a0a" stroke-width="1.8"/>
<line x1="183.1" y1="230.6" x2="183.1" y2="240.2" stroke="#555" stroke-width="1.3"/>
<line x1="183.1" y1="254.8" x2="183.1" y2="265.5" stroke="#555" stroke-width="1.3"/>
<line x1="180.85" y1="230.6" x2="185.35" y2="230.6" stroke="#222" stroke-width="1.2"/>
<line x1="180.85" y1="265.5" x2="185.35" y2="265.5" stroke="#222" stroke-width="1.2"/>
<rect x="178.9" y="240.2" width="8.4" height="14.6" fill="#ae0029"/>
<line x1="178.9" y1="251.4" x2="187.3" y2="251.4" stroke="#0a0a0a" stroke-width="1.8"/>
<line x1="196.2" y1="223.4" x2="196.2" y2="236.7" stroke="#555" stroke-width="1.3"/>
<line x1="196.2" y1="255.5" x2="196.2" y2="263.9" stroke="#555" stroke-width="1.3"/>
<line x1="193.95" y1="223.4" x2="198.45" y2="223.4" stroke="#222" stroke-width="1.2"/>
<line x1="193.95" y1="263.9" x2="198.45" y2="263.9" stroke="#222" stroke-width="1.2"/>
<rect x="192" y="236.7" width="8.4" height="18.8" fill="#2d4a80"/>
<line x1="192" y1="247.1" x2="200.4" y2="247.1" stroke="#0a0a0a" stroke-width="1.8"/>
<text x="148.5" y="311.7" font-size="6.6" text-anchor="middle" fill="#1a1a1a" textLength="11" lengthAdjust="spacingAndGlyphs">Veh</text>
<text x="161.5" y="311.7" font-size="6.6" text-anchor="middle" fill="#1a1a1a" textLength="11" lengthAdjust="spacingAndGlyphs">Epo</text>
<text x="182.9" y="311.7" font-size="6.6" text-anchor="middle" fill="#1a1a1a" textLength="11" lengthAdjust="spacingAndGlyphs">Veh</text>
<text x="196.1" y="311.7" font-size="6.6" text-anchor="middle" fill="#1a1a1a" textLength="11" lengthAdjust="spacingAndGlyphs">Epo</text>
<line x1="143" y1="316.4" x2="166.6" y2="316.4" stroke="#111" stroke-width="1"/>
<line x1="175" y1="316.4" x2="204.6" y2="316.4" stroke="#111" stroke-width="1"/>
<text x="154.8" y="325.5" font-size="6.6" text-anchor="middle" fill="#1a1a1a" textLength="9.8" lengthAdjust="spacingAndGlyphs">WT</text>
<text x="189.8" y="325.5" font-size="6.6" text-anchor="middle" fill="#1a1a1a" textLength="23.5" lengthAdjust="spacingAndGlyphs">ERFE KO</text>
<text transform="translate(117,244.6) rotate(-90)" x="0" y="0" font-size="9" text-anchor="middle" fill="#1a1a1a" textLength="100.6" lengthAdjust="spacingAndGlyphs">Fe / weight dry liver (μg/g)</text>
<text x="280.1" y="199.7" font-size="8.6" text-anchor="middle" fill="#1a1a1a" textLength="42" lengthAdjust="spacingAndGlyphs">Serum iron</text>
<line x1="249.8" y1="206.6" x2="249.8" y2="299.82" stroke="#000" stroke-width="1.25"/>
<line x1="246.4" y1="209.7" x2="249.8" y2="209.7" stroke="#000" stroke-width="1"/>
<text x="243.6" y="212.36" font-size="7.4" text-anchor="end" fill="#1a1a1a" textLength="7.16" lengthAdjust="spacingAndGlyphs">50</text>
<line x1="246.4" y1="227.6" x2="249.8" y2="227.6" stroke="#000" stroke-width="1"/>
<text x="243.6" y="230.26" font-size="7.4" text-anchor="end" fill="#1a1a1a" textLength="7.16" lengthAdjust="spacingAndGlyphs">40</text>
<line x1="246.4" y1="245.5" x2="249.8" y2="245.5" stroke="#000" stroke-width="1"/>
<text x="243.6" y="248.16" font-size="7.4" text-anchor="end" fill="#1a1a1a" textLength="7.16" lengthAdjust="spacingAndGlyphs">30</text>
<line x1="246.4" y1="263.4" x2="249.8" y2="263.4" stroke="#000" stroke-width="1"/>
<text x="243.6" y="266.06" font-size="7.4" text-anchor="end" fill="#1a1a1a" textLength="7.16" lengthAdjust="spacingAndGlyphs">20</text>
<line x1="246.4" y1="281.3" x2="249.8" y2="281.3" stroke="#000" stroke-width="1"/>
<text x="243.6" y="283.96" font-size="7.4" text-anchor="end" fill="#1a1a1a" textLength="7.16" lengthAdjust="spacingAndGlyphs">10</text>
<line x1="246.4" y1="299.2" x2="249.8" y2="299.2" stroke="#000" stroke-width="1"/>
<text x="243.6" y="301.86" font-size="7.4" text-anchor="end" fill="#1a1a1a" textLength="3.58" lengthAdjust="spacingAndGlyphs">0</text>
<line x1="249.18" y1="299.2" x2="310" y2="299.2" stroke="#000" stroke-width="1.25"/>
<line x1="266.9" y1="299.2" x2="266.9" y2="302.6" stroke="#000" stroke-width="1"/>
<line x1="292.4" y1="299.2" x2="292.4" y2="302.6" stroke="#000" stroke-width="1"/>
<line x1="266.9" y1="225" x2="266.9" y2="235.2" stroke="#333" stroke-width="1.1"/>
<line x1="266.9" y1="244.3" x2="266.9" y2="245.3" stroke="#333" stroke-width="1.1"/>
<line x1="262.9" y1="225" x2="270.9" y2="225" stroke="#333" stroke-width="1.2"/>
<line x1="262.9" y1="245.3" x2="270.9" y2="245.3" stroke="#333" stroke-width="1.2"/>
<rect x="258.4" y="235.2" width="17.1" height="9.1" fill="#ae0029"/>
<line x1="258.4" y1="241.2" x2="275.5" y2="241.2" stroke="#0a0a0a" stroke-width="1.8"/>
<line x1="292.5" y1="221.8" x2="292.5" y2="226" stroke="#333" stroke-width="1.1"/>
<line x1="292.5" y1="239.8" x2="292.5" y2="249.2" stroke="#333" stroke-width="1.1"/>
<line x1="288.25" y1="221.8" x2="296.75" y2="221.8" stroke="#333" stroke-width="1.2"/>
<line x1="288.25" y1="249.2" x2="296.75" y2="249.2" stroke="#333" stroke-width="1.2"/>
<rect x="284.1" y="226" width="17.2" height="13.8" fill="#2d4a80"/>
<line x1="284.1" y1="233.3" x2="301.3" y2="233.3" stroke="#0a0a0a" stroke-width="1.8"/>
<text x="266.9" y="311.5" font-size="6.4" text-anchor="middle" fill="#1a1a1a" textLength="10" lengthAdjust="spacingAndGlyphs">Ctrl</text>
<text x="292.4" y="311.5" font-size="6.4" text-anchor="middle" fill="#1a1a1a" textLength="13" lengthAdjust="spacingAndGlyphs">ERFE</text>
<text transform="translate(229.7,253) rotate(-90)" x="0" y="0" font-size="9" text-anchor="middle" fill="#1a1a1a" textLength="61.5" lengthAdjust="spacingAndGlyphs">Serum iron (μM)</text>
<text x="378.6" y="199.7" font-size="8.6" text-anchor="middle" fill="#1a1a1a" textLength="35" lengthAdjust="spacingAndGlyphs">Liver iron</text>
<line x1="348.4" y1="206.8" x2="348.4" y2="299.82" stroke="#000" stroke-width="1.25"/>
<line x1="345" y1="209.6" x2="348.4" y2="209.6" stroke="#000" stroke-width="1"/>
<text x="342.2" y="212.26" font-size="7.4" text-anchor="end" fill="#1a1a1a" textLength="10.74" lengthAdjust="spacingAndGlyphs">800</text>
<line x1="345" y1="232.05" x2="348.4" y2="232.05" stroke="#000" stroke-width="1"/>
<text x="342.2" y="234.71" font-size="7.4" text-anchor="end" fill="#1a1a1a" textLength="10.74" lengthAdjust="spacingAndGlyphs">600</text>
<line x1="345" y1="254.5" x2="348.4" y2="254.5" stroke="#000" stroke-width="1"/>
<text x="342.2" y="257.16" font-size="7.4" text-anchor="end" fill="#1a1a1a" textLength="10.74" lengthAdjust="spacingAndGlyphs">400</text>
<line x1="345" y1="276.95" x2="348.4" y2="276.95" stroke="#000" stroke-width="1"/>
<text x="342.2" y="279.61" font-size="7.4" text-anchor="end" fill="#1a1a1a" textLength="10.74" lengthAdjust="spacingAndGlyphs">200</text>
<line x1="345" y1="299.4" x2="348.4" y2="299.4" stroke="#000" stroke-width="1"/>
<text x="342.2" y="302.06" font-size="7.4" text-anchor="end" fill="#1a1a1a" textLength="3.58" lengthAdjust="spacingAndGlyphs">0</text>
<line x1="347.77" y1="299.2" x2="409" y2="299.2" stroke="#000" stroke-width="1.25"/>
<line x1="365.8" y1="299.2" x2="365.8" y2="302.6" stroke="#000" stroke-width="1"/>
<line x1="391.4" y1="299.2" x2="391.4" y2="302.6" stroke="#000" stroke-width="1"/>
<line x1="365.8" y1="259.4" x2="365.8" y2="260.4" stroke="#333" stroke-width="1.1"/>
<line x1="365.8" y1="280.8" x2="365.8" y2="281.5" stroke="#333" stroke-width="1.1"/>
<line x1="361.8" y1="259.4" x2="369.8" y2="259.4" stroke="#333" stroke-width="1.2"/>
<line x1="361.8" y1="281.5" x2="369.8" y2="281.5" stroke="#333" stroke-width="1.2"/>
<rect x="357.4" y="260.4" width="16.9" height="20.4" fill="#ae0029"/>
<line x1="357.4" y1="274.5" x2="374.3" y2="274.5" stroke="#0a0a0a" stroke-width="1.8"/>
<line x1="391.5" y1="234.5" x2="391.5" y2="253.1" stroke="#333" stroke-width="1.1"/>
<line x1="391.5" y1="280.4" x2="391.5" y2="285.3" stroke="#333" stroke-width="1.1"/>
<line x1="387.3" y1="234.5" x2="395.7" y2="234.5" stroke="#333" stroke-width="1.2"/>
<line x1="387.3" y1="285.3" x2="395.7" y2="285.3" stroke="#333" stroke-width="1.2"/>
<rect x="383.3" y="253.1" width="16.6" height="27.3" fill="#2d4a80"/>
<line x1="383.3" y1="277" x2="399.9" y2="277" stroke="#0a0a0a" stroke-width="1.8"/>
<text x="365.8" y="311.5" font-size="6.4" text-anchor="middle" fill="#1a1a1a" textLength="10" lengthAdjust="spacingAndGlyphs">Ctrl</text>
<text x="391.4" y="311.5" font-size="6.4" text-anchor="middle" fill="#1a1a1a" textLength="13" lengthAdjust="spacingAndGlyphs">ERFE</text>
<text transform="translate(325,252.6) rotate(-90)" x="0" y="0" font-size="9" text-anchor="middle" fill="#1a1a1a" textLength="100.6" lengthAdjust="spacingAndGlyphs">Fe / weight dry liver (μg/g)</text>
<text x="59.65" y="367.5" font-size="8.6" text-anchor="middle" fill="#1a1a1a" textLength="22.7" lengthAdjust="spacingAndGlyphs">Hamp</text>
<line x1="34.5" y1="373.2" x2="34.5" y2="477.02" stroke="#000" stroke-width="1.25"/>
<line x1="31.1" y1="376.3" x2="34.5" y2="376.3" stroke="#000" stroke-width="1"/>
<text x="28.3" y="378.96" font-size="7.4" text-anchor="end" fill="#1a1a1a" textLength="3.58" lengthAdjust="spacingAndGlyphs">8</text>
<line x1="31.1" y1="401.2" x2="34.5" y2="401.2" stroke="#000" stroke-width="1"/>
<text x="28.3" y="403.86" font-size="7.4" text-anchor="end" fill="#1a1a1a" textLength="3.58" lengthAdjust="spacingAndGlyphs">6</text>
<line x1="31.1" y1="426.1" x2="34.5" y2="426.1" stroke="#000" stroke-width="1"/>
<text x="28.3" y="428.76" font-size="7.4" text-anchor="end" fill="#1a1a1a" textLength="3.58" lengthAdjust="spacingAndGlyphs">4</text>
<line x1="31.1" y1="451" x2="34.5" y2="451" stroke="#000" stroke-width="1"/>
<text x="28.3" y="453.66" font-size="7.4" text-anchor="end" fill="#1a1a1a" textLength="3.58" lengthAdjust="spacingAndGlyphs">2</text>
<line x1="31.1" y1="475.9" x2="34.5" y2="475.9" stroke="#000" stroke-width="1"/>
<text x="28.3" y="478.56" font-size="7.4" text-anchor="end" fill="#1a1a1a" textLength="3.58" lengthAdjust="spacingAndGlyphs">0</text>
<line x1="33.88" y1="476.4" x2="84.7" y2="476.4" stroke="#000" stroke-width="1.25"/>
<line x1="48.7" y1="476.4" x2="48.7" y2="479.8" stroke="#000" stroke-width="1"/>
<line x1="70.1" y1="476.4" x2="70.1" y2="479.8" stroke="#000" stroke-width="1"/>
<text x="48.7" y="489.2" font-size="6.9" text-anchor="middle" fill="#1a1a1a" textLength="10.2" lengthAdjust="spacingAndGlyphs">Ctrl</text>
<text x="70.1" y="489.2" font-size="6.9" text-anchor="middle" fill="#1a1a1a" textLength="13.2" lengthAdjust="spacingAndGlyphs">ERFE</text>
<line x1="48.7" y1="400.2" x2="48.7" y2="411.9" stroke="#111" stroke-width="1.2"/>
<line x1="45.3" y1="400.2" x2="52.1" y2="400.2" stroke="#111" stroke-width="1.2"/>
<line x1="45.3" y1="411.9" x2="52.1" y2="411.9" stroke="#111" stroke-width="1.2"/>
<line x1="41.4" y1="406.6" x2="56" y2="406.6" stroke="#111" stroke-width="1.4"/>
<circle cx="48.7" cy="394.5" r="1.6" fill="#b2001f"/>
<circle cx="44.2" cy="404.1" r="1.6" fill="#b2001f"/>
<circle cx="53.6" cy="402.6" r="1.6" fill="#b2001f"/>
<circle cx="48.6" cy="406.5" r="1.6" fill="#b2001f"/>
<circle cx="43.3" cy="409.7" r="1.6" fill="#b2001f"/>
<circle cx="50.5" cy="410.5" r="1.6" fill="#b2001f"/>
<circle cx="54.2" cy="409.2" r="1.6" fill="#b2001f"/>
<circle cx="47" cy="413.3" r="1.6" fill="#b2001f"/>
<line x1="70.1" y1="436.5" x2="70.1" y2="447.8" stroke="#111" stroke-width="1.2"/>
<line x1="66.7" y1="436.5" x2="73.5" y2="436.5" stroke="#111" stroke-width="1.2"/>
<line x1="66.7" y1="447.8" x2="73.5" y2="447.8" stroke="#111" stroke-width="1.2"/>
<line x1="62.8" y1="442.1" x2="77.4" y2="442.1" stroke="#111" stroke-width="1.4"/>
<circle cx="69.9" cy="431.6" r="1.6" fill="#173580"/>
<circle cx="69.9" cy="437.6" r="1.6" fill="#173580"/>
<circle cx="64.6" cy="440.6" r="1.6" fill="#173580"/>
<circle cx="68" cy="442" r="1.6" fill="#173580"/>
<circle cx="75.4" cy="442" r="1.6" fill="#173580"/>
<circle cx="71.6" cy="443.4" r="1.6" fill="#173580"/>
<circle cx="67.5" cy="448.7" r="1.6" fill="#173580"/>
<circle cx="72.3" cy="448.7" r="1.6" fill="#173580"/>
<line x1="51.1" y1="387.2" x2="70.5" y2="387.2" stroke="#3c3c3c" stroke-width="1.4"/>
<rect x="56.65" y="383.3" width="1.4" height="1.6" fill="#666"/>
<rect x="58.95" y="383.3" width="1.4" height="1.6" fill="#666"/>
<rect x="61.25" y="383.3" width="1.4" height="1.6" fill="#666"/>
<rect x="63.55" y="383.3" width="1.4" height="1.6" fill="#666"/>
<text x="129.15" y="367.5" font-size="8.6" text-anchor="middle" fill="#1a1a1a" textLength="10.3" lengthAdjust="spacingAndGlyphs">Id1</text>
<line x1="104.1" y1="373.2" x2="104.1" y2="477.02" stroke="#000" stroke-width="1.25"/>
<line x1="100.7" y1="376.5" x2="104.1" y2="376.5" stroke="#000" stroke-width="1"/>
<text x="97.9" y="379.16" font-size="7.4" text-anchor="end" fill="#1a1a1a" textLength="3.58" lengthAdjust="spacingAndGlyphs">0</text>
<line x1="100.7" y1="401.5" x2="104.1" y2="401.5" stroke="#000" stroke-width="1"/>
<text x="97.9" y="404.16" font-size="7.4" text-anchor="end" fill="#1a1a1a" textLength="5.72" lengthAdjust="spacingAndGlyphs">-1</text>
<line x1="100.7" y1="426.5" x2="104.1" y2="426.5" stroke="#000" stroke-width="1"/>
<text x="97.9" y="429.16" font-size="7.4" text-anchor="end" fill="#1a1a1a" textLength="5.72" lengthAdjust="spacingAndGlyphs">-2</text>
<line x1="100.7" y1="451.5" x2="104.1" y2="451.5" stroke="#000" stroke-width="1"/>
<text x="97.9" y="454.16" font-size="7.4" text-anchor="end" fill="#1a1a1a" textLength="5.72" lengthAdjust="spacingAndGlyphs">-3</text>
<line x1="100.7" y1="476.5" x2="104.1" y2="476.5" stroke="#000" stroke-width="1"/>
<text x="97.9" y="479.16" font-size="7.4" text-anchor="end" fill="#1a1a1a" textLength="5.72" lengthAdjust="spacingAndGlyphs">-4</text>
<line x1="103.47" y1="476.4" x2="154.3" y2="476.4" stroke="#000" stroke-width="1.25"/>
<line x1="118.3" y1="476.4" x2="118.3" y2="479.8" stroke="#000" stroke-width="1"/>
<line x1="139.7" y1="476.4" x2="139.7" y2="479.8" stroke="#000" stroke-width="1"/>
<text x="118.3" y="489.2" font-size="6.9" text-anchor="middle" fill="#1a1a1a" textLength="10.2" lengthAdjust="spacingAndGlyphs">Ctrl</text>
<text x="139.7" y="489.2" font-size="6.9" text-anchor="middle" fill="#1a1a1a" textLength="13.2" lengthAdjust="spacingAndGlyphs">ERFE</text>
<line x1="118.3" y1="387.9" x2="118.3" y2="419.6" stroke="#111" stroke-width="1.2"/>
<line x1="114.9" y1="387.9" x2="121.7" y2="387.9" stroke="#111" stroke-width="1.2"/>
<line x1="114.9" y1="419.6" x2="121.7" y2="419.6" stroke="#111" stroke-width="1.2"/>
<line x1="111" y1="403.7" x2="125.6" y2="403.7" stroke="#111" stroke-width="1.4"/>
<circle cx="116.2" cy="388.4" r="1.6" fill="#b2001f"/>
<circle cx="120.4" cy="387.8" r="1.6" fill="#b2001f"/>
<circle cx="118.5" cy="396.8" r="1.6" fill="#b2001f"/>
<circle cx="113.8" cy="399.4" r="1.6" fill="#b2001f"/>
<circle cx="122.7" cy="399.6" r="1.6" fill="#b2001f"/>
<circle cx="118.5" cy="402.2" r="1.6" fill="#b2001f"/>
<circle cx="118.4" cy="424.6" r="1.6" fill="#b2001f"/>
<circle cx="118.4" cy="431.6" r="1.6" fill="#b2001f"/>
<line x1="139.7" y1="458" x2="139.7" y2="463.9" stroke="#111" stroke-width="1.2"/>
<line x1="136.3" y1="458" x2="143.1" y2="458" stroke="#111" stroke-width="1.2"/>
<line x1="136.3" y1="463.9" x2="143.1" y2="463.9" stroke="#111" stroke-width="1.2"/>
<line x1="132.4" y1="461.8" x2="147" y2="461.8" stroke="#111" stroke-width="1.4"/>
<circle cx="135.6" cy="456.5" r="1.6" fill="#173580"/>
<circle cx="141" cy="456.9" r="1.6" fill="#173580"/>
<circle cx="137.6" cy="459.5" r="1.6" fill="#173580"/>
<circle cx="134.4" cy="462.5" r="1.6" fill="#173580"/>
<circle cx="142.7" cy="463.5" r="1.6" fill="#173580"/>
<circle cx="135.8" cy="465.5" r="1.6" fill="#173580"/>
<circle cx="141.7" cy="465.5" r="1.6" fill="#173580"/>
<circle cx="138.4" cy="467.5" r="1.6" fill="#173580"/>
<line x1="122.5" y1="382.9" x2="142.4" y2="382.9" stroke="#3c3c3c" stroke-width="1.4"/>
<rect x="128.3" y="379.2" width="1.4" height="1.6" fill="#666"/>
<rect x="130.6" y="379.2" width="1.4" height="1.6" fill="#666"/>
<rect x="132.9" y="379.2" width="1.4" height="1.6" fill="#666"/>
<rect x="135.2" y="379.2" width="1.4" height="1.6" fill="#666"/>
<text x="196.8" y="367.5" font-size="8.6" text-anchor="middle" fill="#1a1a1a" textLength="11.4" lengthAdjust="spacingAndGlyphs">Id2</text>
<line x1="171.8" y1="373.2" x2="171.8" y2="477.02" stroke="#000" stroke-width="1.25"/>
<line x1="168.4" y1="376.5" x2="171.8" y2="376.5" stroke="#000" stroke-width="1"/>
<text x="165.6" y="379.16" font-size="7.4" text-anchor="end" fill="#1a1a1a" textLength="3.58" lengthAdjust="spacingAndGlyphs">5</text>
<line x1="168.4" y1="401.5" x2="171.8" y2="401.5" stroke="#000" stroke-width="1"/>
<text x="165.6" y="404.16" font-size="7.4" text-anchor="end" fill="#1a1a1a" textLength="3.58" lengthAdjust="spacingAndGlyphs">4</text>
<line x1="168.4" y1="426.5" x2="171.8" y2="426.5" stroke="#000" stroke-width="1"/>
<text x="165.6" y="429.16" font-size="7.4" text-anchor="end" fill="#1a1a1a" textLength="3.58" lengthAdjust="spacingAndGlyphs">3</text>
<line x1="168.4" y1="451.5" x2="171.8" y2="451.5" stroke="#000" stroke-width="1"/>
<text x="165.6" y="454.16" font-size="7.4" text-anchor="end" fill="#1a1a1a" textLength="3.58" lengthAdjust="spacingAndGlyphs">2</text>
<line x1="168.4" y1="476.5" x2="171.8" y2="476.5" stroke="#000" stroke-width="1"/>
<text x="165.6" y="479.16" font-size="7.4" text-anchor="end" fill="#1a1a1a" textLength="3.58" lengthAdjust="spacingAndGlyphs">1</text>
<line x1="171.18" y1="476.4" x2="222" y2="476.4" stroke="#000" stroke-width="1.25"/>
<line x1="186" y1="476.4" x2="186" y2="479.8" stroke="#000" stroke-width="1"/>
<line x1="207.4" y1="476.4" x2="207.4" y2="479.8" stroke="#000" stroke-width="1"/>
<text x="186" y="489.2" font-size="6.9" text-anchor="middle" fill="#1a1a1a" textLength="10.2" lengthAdjust="spacingAndGlyphs">Ctrl</text>
<text x="207.4" y="489.2" font-size="6.9" text-anchor="middle" fill="#1a1a1a" textLength="13.2" lengthAdjust="spacingAndGlyphs">ERFE</text>
<line x1="186" y1="404.2" x2="186" y2="425" stroke="#111" stroke-width="1.2"/>
<line x1="182.6" y1="404.2" x2="189.4" y2="404.2" stroke="#111" stroke-width="1.2"/>
<line x1="182.6" y1="425" x2="189.4" y2="425" stroke="#111" stroke-width="1.2"/>
<line x1="178.7" y1="414.5" x2="193.3" y2="414.5" stroke="#111" stroke-width="1.4"/>
<circle cx="183.3" cy="401.5" r="1.6" fill="#b2001f"/>
<circle cx="188.5" cy="401.3" r="1.6" fill="#b2001f"/>
<circle cx="186" cy="407.5" r="1.6" fill="#b2001f"/>
<circle cx="183.5" cy="416.2" r="1.6" fill="#b2001f"/>
<circle cx="188.5" cy="416.4" r="1.6" fill="#b2001f"/>
<circle cx="183.5" cy="421.7" r="1.6" fill="#b2001f"/>
<circle cx="188.3" cy="423.2" r="1.6" fill="#b2001f"/>
<circle cx="186" cy="430.7" r="1.6" fill="#b2001f"/>
<line x1="207.4" y1="420.1" x2="207.4" y2="442.2" stroke="#111" stroke-width="1.2"/>
<line x1="204" y1="420.1" x2="210.8" y2="420.1" stroke="#111" stroke-width="1.2"/>
<line x1="204" y1="442.2" x2="210.8" y2="442.2" stroke="#111" stroke-width="1.2"/>
<line x1="200.1" y1="430.8" x2="214.7" y2="430.8" stroke="#111" stroke-width="1.4"/>
<circle cx="207.4" cy="415.2" r="1.6" fill="#173580"/>
<circle cx="205" cy="421" r="1.6" fill="#173580"/>
<circle cx="209.8" cy="423" r="1.6" fill="#173580"/>
<circle cx="207.4" cy="431.7" r="1.6" fill="#173580"/>
<circle cx="202.8" cy="436.2" r="1.6" fill="#173580"/>
<circle cx="211.5" cy="433.8" r="1.6" fill="#173580"/>
<circle cx="207.3" cy="436.9" r="1.6" fill="#173580"/>
<circle cx="207.4" cy="450.5" r="1.6" fill="#173580"/>
<line x1="185.9" y1="383.8" x2="207" y2="383.8" stroke="#3c3c3c" stroke-width="1.4"/>
<rect x="194.6" y="380.2" width="1.4" height="1.6" fill="#666"/>
<rect x="196.9" y="380.2" width="1.4" height="1.6" fill="#666"/>
<text x="266.9" y="367.5" font-size="8.6" text-anchor="middle" fill="#1a1a1a" textLength="23.2" lengthAdjust="spacingAndGlyphs">Atoh8</text>
<line x1="241.6" y1="373.2" x2="241.6" y2="477.02" stroke="#000" stroke-width="1.25"/>
<line x1="238.2" y1="376.5" x2="241.6" y2="376.5" stroke="#000" stroke-width="1"/>
<text x="235.4" y="379.16" font-size="7.4" text-anchor="end" fill="#1a1a1a" textLength="3.58" lengthAdjust="spacingAndGlyphs">0</text>
<line x1="238.2" y1="401.5" x2="241.6" y2="401.5" stroke="#000" stroke-width="1"/>
<text x="235.4" y="404.16" font-size="7.4" text-anchor="end" fill="#1a1a1a" textLength="5.72" lengthAdjust="spacingAndGlyphs">-1</text>
<line x1="238.2" y1="426.5" x2="241.6" y2="426.5" stroke="#000" stroke-width="1"/>
<text x="235.4" y="429.16" font-size="7.4" text-anchor="end" fill="#1a1a1a" textLength="5.72" lengthAdjust="spacingAndGlyphs">-2</text>
<line x1="238.2" y1="451.5" x2="241.6" y2="451.5" stroke="#000" stroke-width="1"/>
<text x="235.4" y="454.16" font-size="7.4" text-anchor="end" fill="#1a1a1a" textLength="5.72" lengthAdjust="spacingAndGlyphs">-3</text>
<line x1="238.2" y1="476.5" x2="241.6" y2="476.5" stroke="#000" stroke-width="1"/>
<text x="235.4" y="479.16" font-size="7.4" text-anchor="end" fill="#1a1a1a" textLength="5.72" lengthAdjust="spacingAndGlyphs">-4</text>
<line x1="240.97" y1="476.4" x2="291.8" y2="476.4" stroke="#000" stroke-width="1.25"/>
<line x1="255.8" y1="476.4" x2="255.8" y2="479.8" stroke="#000" stroke-width="1"/>
<line x1="277.2" y1="476.4" x2="277.2" y2="479.8" stroke="#000" stroke-width="1"/>
<text x="255.8" y="489.2" font-size="6.9" text-anchor="middle" fill="#1a1a1a" textLength="10.2" lengthAdjust="spacingAndGlyphs">Ctrl</text>
<text x="277.2" y="489.2" font-size="6.9" text-anchor="middle" fill="#1a1a1a" textLength="13.2" lengthAdjust="spacingAndGlyphs">ERFE</text>
<line x1="255.8" y1="388.5" x2="255.8" y2="408.4" stroke="#111" stroke-width="1.2"/>
<line x1="252.4" y1="388.5" x2="259.2" y2="388.5" stroke="#111" stroke-width="1.2"/>
<line x1="252.4" y1="408.4" x2="259.2" y2="408.4" stroke="#111" stroke-width="1.2"/>
<line x1="248.5" y1="398.2" x2="263.1" y2="398.2" stroke="#111" stroke-width="1.4"/>
<circle cx="253.7" cy="388.1" r="1.6" fill="#b2001f"/>
<circle cx="256.7" cy="385.6" r="1.6" fill="#b2001f"/>
<circle cx="260.3" cy="391.3" r="1.6" fill="#b2001f"/>
<circle cx="258" cy="395.5" r="1.6" fill="#b2001f"/>
<circle cx="253.7" cy="398" r="1.6" fill="#b2001f"/>
<circle cx="253.7" cy="406.5" r="1.6" fill="#b2001f"/>
<circle cx="258" cy="408.5" r="1.6" fill="#b2001f"/>
<circle cx="255.7" cy="413.8" r="1.6" fill="#b2001f"/>
<line x1="277.2" y1="432.6" x2="277.2" y2="448" stroke="#111" stroke-width="1.2"/>
<line x1="273.8" y1="432.6" x2="280.6" y2="432.6" stroke="#111" stroke-width="1.2"/>
<line x1="273.8" y1="448" x2="280.6" y2="448" stroke="#111" stroke-width="1.2"/>
<line x1="269.9" y1="440.4" x2="284.5" y2="440.4" stroke="#111" stroke-width="1.4"/>
<circle cx="275" cy="430.5" r="1.6" fill="#173580"/>
<circle cx="280" cy="430.5" r="1.6" fill="#173580"/>
<circle cx="275.6" cy="436.6" r="1.6" fill="#173580"/>
<circle cx="280" cy="436.8" r="1.6" fill="#173580"/>
<circle cx="272.5" cy="446.8" r="1.6" fill="#173580"/>
<circle cx="276.5" cy="447.5" r="1.6" fill="#173580"/>
<circle cx="281.3" cy="447.2" r="1.6" fill="#173580"/>
<circle cx="277.3" cy="450.3" r="1.6" fill="#173580"/>
<line x1="255" y1="381.6" x2="277.4" y2="381.6" stroke="#3c3c3c" stroke-width="1.4"/>
<rect x="262.05" y="377.9" width="1.4" height="1.6" fill="#666"/>
<rect x="264.35" y="377.9" width="1.4" height="1.6" fill="#666"/>
<rect x="266.65" y="377.9" width="1.4" height="1.6" fill="#666"/>
<rect x="268.95" y="377.9" width="1.4" height="1.6" fill="#666"/>
<text x="336.15" y="367.5" font-size="8.6" text-anchor="middle" fill="#1a1a1a" textLength="25.3" lengthAdjust="spacingAndGlyphs">Smad7</text>
<line x1="311.4" y1="373.2" x2="311.4" y2="477.02" stroke="#000" stroke-width="1.25"/>
<line x1="308" y1="376.5" x2="311.4" y2="376.5" stroke="#000" stroke-width="1"/>
<text x="305.2" y="379.16" font-size="7.4" text-anchor="end" fill="#1a1a1a" textLength="3.58" lengthAdjust="spacingAndGlyphs">0</text>
<line x1="308" y1="396.48" x2="311.4" y2="396.48" stroke="#000" stroke-width="1"/>
<text x="305.2" y="399.14" font-size="7.4" text-anchor="end" fill="#1a1a1a" textLength="5.72" lengthAdjust="spacingAndGlyphs">-1</text>
<line x1="308" y1="416.46" x2="311.4" y2="416.46" stroke="#000" stroke-width="1"/>
<text x="305.2" y="419.12" font-size="7.4" text-anchor="end" fill="#1a1a1a" textLength="5.72" lengthAdjust="spacingAndGlyphs">-2</text>
<line x1="308" y1="436.44" x2="311.4" y2="436.44" stroke="#000" stroke-width="1"/>
<text x="305.2" y="439.1" font-size="7.4" text-anchor="end" fill="#1a1a1a" textLength="5.72" lengthAdjust="spacingAndGlyphs">-3</text>
<line x1="308" y1="456.42" x2="311.4" y2="456.42" stroke="#000" stroke-width="1"/>
<text x="305.2" y="459.08" font-size="7.4" text-anchor="end" fill="#1a1a1a" textLength="5.72" lengthAdjust="spacingAndGlyphs">-4</text>
<line x1="308" y1="476.4" x2="311.4" y2="476.4" stroke="#000" stroke-width="1"/>
<text x="305.2" y="479.06" font-size="7.4" text-anchor="end" fill="#1a1a1a" textLength="5.72" lengthAdjust="spacingAndGlyphs">-5</text>
<line x1="310.77" y1="476.4" x2="361.6" y2="476.4" stroke="#000" stroke-width="1.25"/>
<line x1="325.6" y1="476.4" x2="325.6" y2="479.8" stroke="#000" stroke-width="1"/>
<line x1="347" y1="476.4" x2="347" y2="479.8" stroke="#000" stroke-width="1"/>
<text x="325.6" y="489.2" font-size="6.9" text-anchor="middle" fill="#1a1a1a" textLength="10.2" lengthAdjust="spacingAndGlyphs">Ctrl</text>
<text x="347" y="489.2" font-size="6.9" text-anchor="middle" fill="#1a1a1a" textLength="13.2" lengthAdjust="spacingAndGlyphs">ERFE</text>
<line x1="325.6" y1="398.2" x2="325.6" y2="422.3" stroke="#111" stroke-width="1.2"/>
<line x1="322.2" y1="398.2" x2="329" y2="398.2" stroke="#111" stroke-width="1.2"/>
<line x1="322.2" y1="422.3" x2="329" y2="422.3" stroke="#111" stroke-width="1.2"/>
<line x1="318.3" y1="410.2" x2="332.9" y2="410.2" stroke="#111" stroke-width="1.4"/>
<circle cx="325.3" cy="397.6" r="1.6" fill="#b2001f"/>
<circle cx="330.7" cy="402.6" r="1.6" fill="#b2001f"/>
<circle cx="320.2" cy="404.5" r="1.6" fill="#b2001f"/>
<circle cx="323.8" cy="405.5" r="1.6" fill="#b2001f"/>
<circle cx="327.2" cy="405" r="1.6" fill="#b2001f"/>
<circle cx="325.3" cy="411.5" r="1.6" fill="#b2001f"/>
<circle cx="323" cy="429.6" r="1.6" fill="#b2001f"/>
<circle cx="327.5" cy="427.8" r="1.6" fill="#b2001f"/>
<line x1="347" y1="435.3" x2="347" y2="449.2" stroke="#111" stroke-width="1.2"/>
<line x1="343.6" y1="435.3" x2="350.4" y2="435.3" stroke="#111" stroke-width="1.2"/>
<line x1="343.6" y1="449.2" x2="350.4" y2="449.2" stroke="#111" stroke-width="1.2"/>
<line x1="339.7" y1="442.3" x2="354.3" y2="442.3" stroke="#111" stroke-width="1.4"/>
<circle cx="346.8" cy="433.7" r="1.6" fill="#173580"/>
<circle cx="341.5" cy="438.8" r="1.6" fill="#173580"/>
<circle cx="344.5" cy="440.2" r="1.6" fill="#173580"/>
<circle cx="351.7" cy="439.3" r="1.6" fill="#173580"/>
<circle cx="346.8" cy="442.5" r="1.6" fill="#173580"/>
<circle cx="346.8" cy="447.8" r="1.6" fill="#173580"/>
<circle cx="346.8" cy="457.2" r="1.6" fill="#173580"/>
<line x1="326.6" y1="384.3" x2="346.7" y2="384.3" stroke="#3c3c3c" stroke-width="1.4"/>
<rect x="332.5" y="380.7" width="1.4" height="1.6" fill="#666"/>
<rect x="334.8" y="380.7" width="1.4" height="1.6" fill="#666"/>
<rect x="337.1" y="380.7" width="1.4" height="1.6" fill="#666"/>
<rect x="339.4" y="380.7" width="1.4" height="1.6" fill="#666"/>
<text x="411.75" y="367.5" font-size="8.6" text-anchor="middle" fill="#1a1a1a" textLength="22.1" lengthAdjust="spacingAndGlyphs">Bmp2</text>
<line x1="386.8" y1="373.2" x2="386.8" y2="477.02" stroke="#000" stroke-width="1.25"/>
<line x1="383.4" y1="376.5" x2="386.8" y2="376.5" stroke="#000" stroke-width="1"/>
<text x="380.6" y="379.16" font-size="7.4" text-anchor="end" fill="#1a1a1a" textLength="11.09" lengthAdjust="spacingAndGlyphs">-2.0</text>
<line x1="383.4" y1="401.48" x2="386.8" y2="401.48" stroke="#000" stroke-width="1"/>
<text x="380.6" y="404.14" font-size="7.4" text-anchor="end" fill="#1a1a1a" textLength="11.09" lengthAdjust="spacingAndGlyphs">-2.5</text>
<line x1="383.4" y1="426.46" x2="386.8" y2="426.46" stroke="#000" stroke-width="1"/>
<text x="380.6" y="429.12" font-size="7.4" text-anchor="end" fill="#1a1a1a" textLength="11.09" lengthAdjust="spacingAndGlyphs">-3.0</text>
<line x1="383.4" y1="451.44" x2="386.8" y2="451.44" stroke="#000" stroke-width="1"/>
<text x="380.6" y="454.1" font-size="7.4" text-anchor="end" fill="#1a1a1a" textLength="11.09" lengthAdjust="spacingAndGlyphs">-3.5</text>
<line x1="383.4" y1="476.42" x2="386.8" y2="476.42" stroke="#000" stroke-width="1"/>
<text x="380.6" y="479.08" font-size="7.4" text-anchor="end" fill="#1a1a1a" textLength="11.09" lengthAdjust="spacingAndGlyphs">-4.0</text>
<line x1="386.18" y1="476.4" x2="437" y2="476.4" stroke="#000" stroke-width="1.25"/>
<line x1="401" y1="476.4" x2="401" y2="479.8" stroke="#000" stroke-width="1"/>
<line x1="422.4" y1="476.4" x2="422.4" y2="479.8" stroke="#000" stroke-width="1"/>
<text x="401" y="489.2" font-size="6.9" text-anchor="middle" fill="#1a1a1a" textLength="10.2" lengthAdjust="spacingAndGlyphs">Ctrl</text>
<text x="422.4" y="489.2" font-size="6.9" text-anchor="middle" fill="#1a1a1a" textLength="13.2" lengthAdjust="spacingAndGlyphs">ERFE</text>
<line x1="401" y1="412.1" x2="401" y2="435.3" stroke="#111" stroke-width="1.2"/>
<line x1="397.6" y1="412.1" x2="404.4" y2="412.1" stroke="#111" stroke-width="1.2"/>
<line x1="397.6" y1="435.3" x2="404.4" y2="435.3" stroke="#111" stroke-width="1.2"/>
<line x1="393.7" y1="423.8" x2="408.3" y2="423.8" stroke="#111" stroke-width="1.4"/>
<circle cx="400.6" cy="411" r="1.6" fill="#b2001f"/>
<circle cx="403.7" cy="413.4" r="1.6" fill="#b2001f"/>
<circle cx="396.3" cy="417.2" r="1.6" fill="#b2001f"/>
<circle cx="398.7" cy="420.6" r="1.6" fill="#b2001f"/>
<circle cx="403.5" cy="421.9" r="1.6" fill="#b2001f"/>
<circle cx="400.6" cy="427.1" r="1.6" fill="#b2001f"/>
<circle cx="400.6" cy="433.5" r="1.6" fill="#b2001f"/>
<circle cx="400.6" cy="446.6" r="1.6" fill="#b2001f"/>
<line x1="422.4" y1="415.3" x2="422.4" y2="434.7" stroke="#111" stroke-width="1.2"/>
<line x1="419" y1="415.3" x2="425.8" y2="415.3" stroke="#111" stroke-width="1.2"/>
<line x1="419" y1="434.7" x2="425.8" y2="434.7" stroke="#111" stroke-width="1.2"/>
<line x1="415.1" y1="425.4" x2="429.7" y2="425.4" stroke="#111" stroke-width="1.4"/>
<circle cx="419.7" cy="410.7" r="1.6" fill="#173580"/>
<circle cx="424.8" cy="414.5" r="1.6" fill="#173580"/>
<circle cx="419.5" cy="422.6" r="1.6" fill="#173580"/>
<circle cx="424.5" cy="422.2" r="1.6" fill="#173580"/>
<circle cx="419.7" cy="429.3" r="1.6" fill="#173580"/>
<circle cx="424.3" cy="429.3" r="1.6" fill="#173580"/>
<circle cx="420" cy="437.3" r="1.6" fill="#173580"/>
<circle cx="424.5" cy="436.3" r="1.6" fill="#173580"/>
<text x="487.25" y="367.5" font-size="8.6" text-anchor="middle" fill="#1a1a1a" textLength="22.3" lengthAdjust="spacingAndGlyphs">Bmp6</text>
<line x1="462.2" y1="373.2" x2="462.2" y2="477.02" stroke="#000" stroke-width="1.25"/>
<line x1="458.8" y1="376.5" x2="462.2" y2="376.5" stroke="#000" stroke-width="1"/>
<text x="456" y="379.16" font-size="7.4" text-anchor="end" fill="#1a1a1a" textLength="8.95" lengthAdjust="spacingAndGlyphs">0.0</text>
<line x1="458.8" y1="401.48" x2="462.2" y2="401.48" stroke="#000" stroke-width="1"/>
<text x="456" y="404.14" font-size="7.4" text-anchor="end" fill="#1a1a1a" textLength="11.09" lengthAdjust="spacingAndGlyphs">-0.5</text>
<line x1="458.8" y1="426.46" x2="462.2" y2="426.46" stroke="#000" stroke-width="1"/>
<text x="456" y="429.12" font-size="7.4" text-anchor="end" fill="#1a1a1a" textLength="11.09" lengthAdjust="spacingAndGlyphs">-1.0</text>
<line x1="458.8" y1="451.44" x2="462.2" y2="451.44" stroke="#000" stroke-width="1"/>
<text x="456" y="454.1" font-size="7.4" text-anchor="end" fill="#1a1a1a" textLength="11.09" lengthAdjust="spacingAndGlyphs">-1.5</text>
<line x1="458.8" y1="476.42" x2="462.2" y2="476.42" stroke="#000" stroke-width="1"/>
<text x="456" y="479.08" font-size="7.4" text-anchor="end" fill="#1a1a1a" textLength="11.09" lengthAdjust="spacingAndGlyphs">-2.0</text>
<line x1="461.57" y1="476.4" x2="512.4" y2="476.4" stroke="#000" stroke-width="1.25"/>
<line x1="476.4" y1="476.4" x2="476.4" y2="479.8" stroke="#000" stroke-width="1"/>
<line x1="497.8" y1="476.4" x2="497.8" y2="479.8" stroke="#000" stroke-width="1"/>
<text x="476.4" y="489.2" font-size="6.9" text-anchor="middle" fill="#1a1a1a" textLength="10.2" lengthAdjust="spacingAndGlyphs">Ctrl</text>
<text x="497.8" y="489.2" font-size="6.9" text-anchor="middle" fill="#1a1a1a" textLength="13.2" lengthAdjust="spacingAndGlyphs">ERFE</text>
<line x1="476.4" y1="410.9" x2="476.4" y2="438.3" stroke="#111" stroke-width="1.2"/>
<line x1="473" y1="410.9" x2="479.8" y2="410.9" stroke="#111" stroke-width="1.2"/>
<line x1="473" y1="438.3" x2="479.8" y2="438.3" stroke="#111" stroke-width="1.2"/>
<line x1="469.1" y1="424.1" x2="483.7" y2="424.1" stroke="#111" stroke-width="1.4"/>
<circle cx="476.1" cy="405.8" r="1.6" fill="#b2001f"/>
<circle cx="473.5" cy="414.6" r="1.6" fill="#b2001f"/>
<circle cx="478.3" cy="415.5" r="1.6" fill="#b2001f"/>
<circle cx="471.3" cy="422.3" r="1.6" fill="#b2001f"/>
<circle cx="476" cy="426.8" r="1.6" fill="#b2001f"/>
<circle cx="480.6" cy="426.5" r="1.6" fill="#b2001f"/>
<circle cx="475.9" cy="435.6" r="1.6" fill="#b2001f"/>
<circle cx="475.9" cy="450" r="1.6" fill="#b2001f"/>
<line x1="497.8" y1="409.2" x2="497.8" y2="437.5" stroke="#111" stroke-width="1.2"/>
<line x1="494.4" y1="409.2" x2="501.2" y2="409.2" stroke="#111" stroke-width="1.2"/>
<line x1="494.4" y1="437.5" x2="501.2" y2="437.5" stroke="#111" stroke-width="1.2"/>
<line x1="490.5" y1="423" x2="505.1" y2="423" stroke="#111" stroke-width="1.4"/>
<circle cx="497.4" cy="404.3" r="1.6" fill="#173580"/>
<circle cx="495.2" cy="408.5" r="1.6" fill="#173580"/>
<circle cx="500.2" cy="412.1" r="1.6" fill="#173580"/>
<circle cx="500" cy="425.8" r="1.6" fill="#173580"/>
<circle cx="492.6" cy="427.6" r="1.6" fill="#173580"/>
<circle cx="495.2" cy="429.5" r="1.6" fill="#173580"/>
<circle cx="500" cy="432.4" r="1.6" fill="#173580"/>
<circle cx="497.4" cy="447.5" r="1.6" fill="#173580"/>
<text transform="translate(17.4,425.2) rotate(-90)" x="0" y="0" font-size="9" text-anchor="middle" fill="#1a1a1a" textLength="66.3" lengthAdjust="spacingAndGlyphs">-ΔCT (Hprt-gene)</text>
<rect x="0" y="0" width="520" height="2" fill="#9c9c9c" shape-rendering="crispEdges"/>
<rect x="0" y="496" width="520" height="1" fill="#a8a8a8" shape-rendering="crispEdges"/>
<rect x="1" y="0" width="1" height="498" fill="#888" shape-rendering="crispEdges"/>
<rect x="518" y="0" width="1" height="498" fill="#8a8a8a" shape-rendering="crispEdges"/>
<rect x="0" y="0" width="520" height="1" fill="#121212" shape-rendering="crispEdges"/>
<rect x="0" y="497" width="520" height="1" fill="#121212" shape-rendering="crispEdges"/>
<rect x="0" y="0" width="1" height="498" fill="#202020" shape-rendering="crispEdges"/>
<rect x="519" y="0" width="1" height="498" fill="#202020" shape-rendering="crispEdges"/>
</svg>
</body></html>
